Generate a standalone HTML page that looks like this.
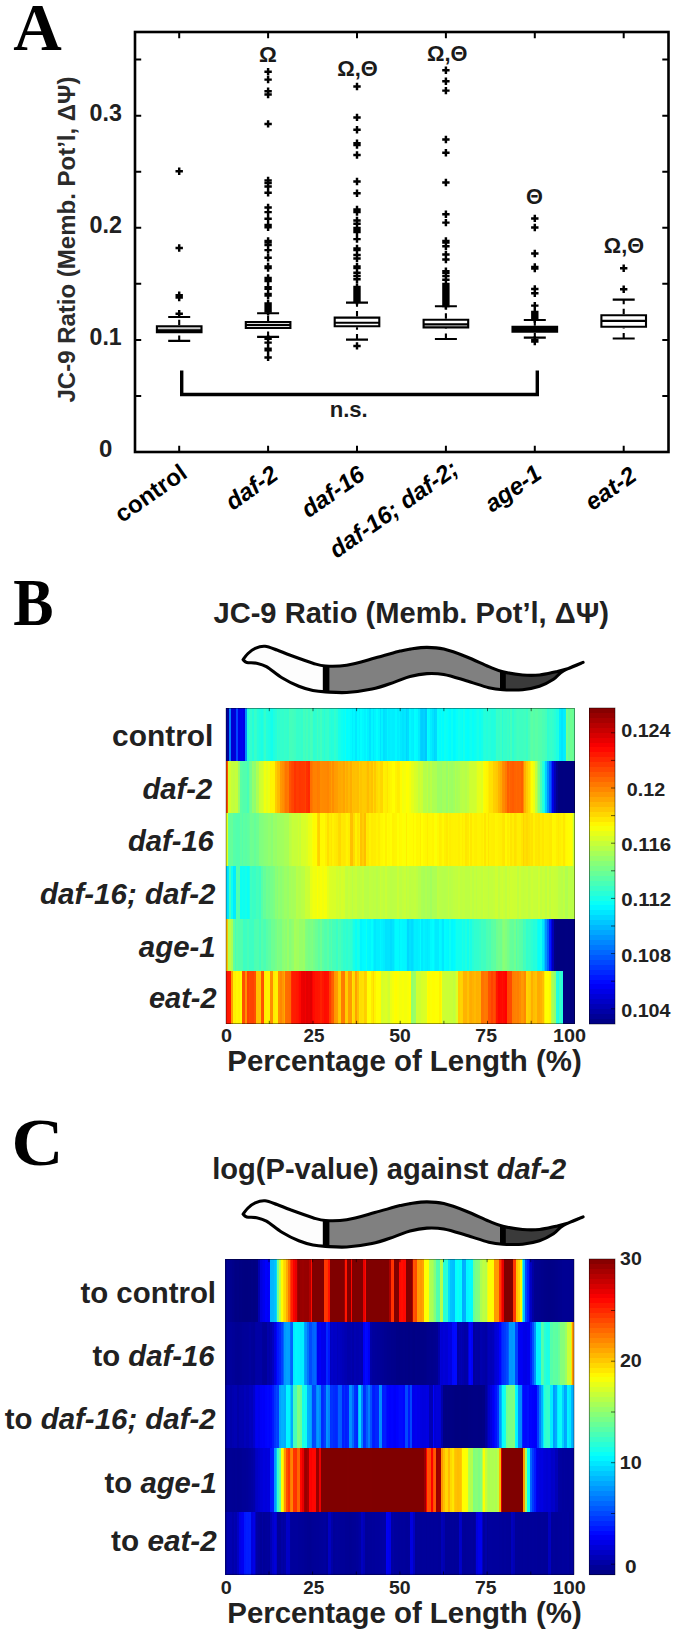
<!DOCTYPE html>
<html lang="en"><head><meta charset="utf-8"><title>Figure</title>
<style>
html,body{margin:0;padding:0;background:#fff}
#fig{position:relative;width:675px;height:1635px;overflow:hidden;background:#fff;font-family:"Liberation Sans", sans-serif}
.hr{position:absolute}
svg{position:absolute;left:0;top:0}
</style></head><body><div id="fig">
<div class="hr" style="left:225.7px;top:708.00px;width:349.1px;height:52.97px;background:linear-gradient(90deg,#00009d 0% 0.5%,#0000a0 0.5% 1%,#0080ff 1% 1.5%,#0000d2 1.5% 2%,#0000d6 2% 2.5%,#0000db 2.5% 3%,#0045ff 3% 3.5%,#0000e7 3.5% 4%,#0000ec 4% 4.5%,#0000f3 4.5% 5%,#0000e4 5% 5.5%,#008aff 5.5% 6%,#24ffdb 6% 6.5%,#35ffca 6.5% 7%,#33ffcc 7% 7.5%,#23ffdc 7.5% 8%,#37ffc8 8% 8.5%,#32ffcd 8.5% 9%,#25ffda 9% 9.5%,#1fffe0 9.5% 10%,#19ffe6 10% 10.5%,#25ffda 10.5% 11%,#35ffca 11% 11.5%,#22ffdd 11.5% 12%,#1dffe2 12% 12.5%,#17ffe8 12.5% 13%,#11ffee 13% 13.5%,#20ffdf 13.5% 14%,#25ffda 14% 14.5%,#34ffcb 14.5% 15%,#2fffd0 15% 15.5%,#34ffcb 15.5% 16%,#32ffcd 16% 16.5%,#38ffc7 16.5% 17%,#35ffca 17% 17.5%,#32ffcd 17.5% 18%,#45ffba 18% 19%,#42ffbd 19% 19.5%,#3fffc0 19.5% 20%,#36ffc9 20% 20.5%,#35ffca 20.5% 21%,#37ffc8 21% 21.5%,#32ffcd 21.5% 22%,#43ffbc 22% 22.5%,#3affc5 22.5% 23%,#44ffbb 23% 23.5%,#38ffc7 23.5% 24%,#46ffb9 24% 24.5%,#42ffbd 24.5% 25%,#2dffd2 25% 25.5%,#31ffce 25.5% 26%,#42ffbd 26% 26.5%,#35ffca 26.5% 27%,#41ffbe 27% 27.5%,#31ffce 27.5% 28%,#28ffd7 28% 28.5%,#34ffcb 28.5% 29%,#37ffc8 29% 29.5%,#29ffd6 29.5% 30%,#22ffdd 30% 30.5%,#25ffda 30.5% 31%,#31ffce 31% 31.5%,#28ffd7 31.5% 32%,#15ffea 32% 33%,#0dfff2 33% 33.5%,#07fff8 33.5% 34%,#14ffeb 34% 34.5%,#00ffff 34.5% 35%,#04fffb 35% 35.5%,#00fbff 35.5% 36%,#00f0ff 36% 36.5%,#00f8ff 36.5% 37%,#00e9ff 37% 37.5%,#00fbff 37.5% 38%,#00f3ff 38% 38.5%,#01fffe 38.5% 39%,#00f9ff 39% 39.5%,#00f3ff 39.5% 40%,#00fdff 40% 40.5%,#00f1ff 40.5% 41%,#00e3ff 41% 41.5%,#00f7ff 41.5% 42%,#00ebff 42% 42.5%,#00f5ff 42.5% 43%,#01fffe 43% 43.5%,#00f6ff 43.5% 44%,#00e3ff 44% 44.5%,#00f4ff 44.5% 45%,#00e0ff 45% 45.5%,#00e5ff 45.5% 46%,#00f5ff 46% 46.5%,#00edff 46.5% 47%,#00f0ff 47% 47.5%,#00eeff 47.5% 48%,#00efff 48% 48.5%,#00f8ff 48.5% 49%,#00edff 49% 49.5%,#00f3ff 49.5% 50%,#00e9ff 50% 50.5%,#00e3ff 50.5% 51%,#00e8ff 51% 51.5%,#00d5ff 51.5% 52%,#00ddff 52% 52.5%,#00f9ff 52.5% 53%,#00f1ff 53% 53.5%,#00eeff 53.5% 54%,#00ffff 54% 54.5%,#00fbff 54.5% 55%,#00ebff 55% 55.5%,#00d4ff 55.5% 56%,#00cdff 56% 56.5%,#00d2ff 56.5% 57%,#00c6ff 57% 57.5%,#04fffb 57.5% 58%,#00fbff 58% 58.5%,#00eeff 58.5% 59%,#00e3ff 59% 59.5%,#00d5ff 59.5% 60%,#00daff 60% 60.5%,#06fff9 60.5% 61%,#00feff 61% 61.5%,#0afff5 61.5% 62%,#00feff 62% 62.5%,#0dfff2 62.5% 63%,#07fff8 63% 63.5%,#00ffff 63.5% 64%,#00fcff 64% 64.5%,#0afff5 64.5% 65%,#00faff 65% 65.5%,#00fdff 65.5% 66%,#07fff8 66% 66.5%,#10ffef 66.5% 67%,#0bfff4 67% 67.5%,#04fffb 67.5% 68%,#15ffea 68% 68.5%,#05fffa 68.5% 69%,#02fffd 69% 69.5%,#09fff6 69.5% 70%,#0ffff0 70% 70.5%,#06fff9 70.5% 71%,#0bfff4 71% 71.5%,#11ffee 71.5% 72%,#17ffe8 72% 72.5%,#0dfff2 72.5% 73%,#14ffeb 73% 73.5%,#22ffdd 73.5% 74%,#27ffd8 74% 74.5%,#22ffdd 74.5% 75%,#27ffd8 75% 76%,#20ffdf 76% 76.5%,#21ffde 76.5% 77%,#23ffdc 77% 77.5%,#39ffc6 77.5% 78%,#35ffca 78% 78.5%,#3dffc2 78.5% 79%,#27ffd8 79% 79.5%,#37ffc8 79.5% 80%,#34ffcb 80% 80.5%,#3bffc4 80.5% 81%,#32ffcd 81% 81.5%,#44ffbb 81.5% 82%,#2effd1 82% 82.5%,#39ffc6 82.5% 83%,#3effc1 83% 83.5%,#42ffbd 83.5% 84%,#3effc1 84% 84.5%,#3dffc2 84.5% 85%,#3fffc0 85% 85.5%,#42ffbd 85.5% 86%,#38ffc7 86% 86.5%,#48ffb7 86.5% 87%,#55ffaa 87% 87.5%,#5cffa3 87.5% 88%,#54ffab 88% 88.5%,#5bffa4 88.5% 89.5%,#53ffac 89.5% 90%,#52ffad 90% 90.5%,#4affb5 90.5% 91%,#4bffb4 91% 91.5%,#44ffbb 91.5% 92%,#2fffd0 92% 92.5%,#35ffca 92.5% 93%,#38ffc7 93% 93.5%,#31ffce 93.5% 94%,#29ffd6 94% 94.5%,#1cffe3 94.5% 95%,#21ffde 95% 95.5%,#00eeff 95.5% 96%,#00e4ff 96% 96.5%,#00eeff 96.5% 97%,#00f1ff 97% 97.5%,#71ff8e 97.5% 98%,#60ff9f 98% 98.5%,#6eff91 98.5% 99%,#6bff94 99% 99.5%,#64ff9b 99.5% 100%)"></div>
<div class="hr" style="left:225.7px;top:760.67px;width:349.1px;height:52.97px;background:linear-gradient(90deg,#ff4d00 0% 0.5%,#d4ff2b 0.5% 1%,#d3ff2c 1% 1.5%,#c4ff3b 1.5% 2%,#bfff40 2% 2.5%,#c7ff38 2.5% 3%,#c3ff3c 3% 3.5%,#96ff69 3.5% 4%,#5affa5 4% 4.5%,#55ffaa 4.5% 5%,#52ffad 5% 6%,#46ffb9 6% 6.5%,#67ff98 6.5% 7%,#74ff8b 7% 7.5%,#94ff6b 7.5% 8%,#8dff72 8% 8.5%,#aeff51 8.5% 9%,#adff52 9% 9.5%,#cdff32 9.5% 10%,#d2ff2d 10% 10.5%,#dcff23 10.5% 11%,#f0ff0f 11% 11.5%,#e5ff1a 11.5% 12%,#eeff11 12% 12.5%,#fff300 12.5% 13%,#fff500 13% 13.5%,#fff400 13.5% 14%,#ffcc00 14% 14.5%,#ffbb00 14.5% 15%,#ffb900 15% 15.5%,#ff9800 15.5% 16%,#ff8f00 16% 16.5%,#ff8300 16.5% 17%,#ff7400 17% 17.5%,#ff7700 17.5% 18%,#ff5300 18% 18.5%,#ff4800 18.5% 19%,#ff4400 19% 19.5%,#ff3300 19.5% 20%,#ff3c00 20% 20.5%,#ff3b00 20.5% 21%,#ff3600 21% 21.5%,#ff3800 21.5% 22%,#ff3900 22% 22.5%,#ff4100 22.5% 23%,#ff2f00 23% 23.5%,#ff2800 23.5% 24%,#ff6f00 24% 24.5%,#ff7800 24.5% 25%,#ff8100 25% 25.5%,#ff8200 25.5% 26%,#ff7b00 26% 26.5%,#ff7d00 26.5% 27%,#ff8c00 27% 27.5%,#ff8a00 27.5% 28%,#ff8900 28% 29%,#ff8500 29% 29.5%,#ff8f00 29.5% 30%,#ff9e00 30% 30.5%,#ff8e00 30.5% 31%,#ff9c00 31% 31.5%,#ff9e00 31.5% 32%,#ffa900 32% 32.5%,#ffa800 32.5% 33%,#ffac00 33% 33.5%,#ffa400 33.5% 34%,#ffb600 34% 34.5%,#ffad00 34.5% 35%,#ffb800 35% 35.5%,#ffad00 35.5% 36%,#ffc000 36% 36.5%,#ffbe00 36.5% 37%,#ffc000 37% 37.5%,#ffbd00 37.5% 38%,#ffcd00 38% 38.5%,#ffc400 38.5% 39%,#ffcb00 39% 39.5%,#ffca00 39.5% 40%,#ffc600 40% 40.5%,#ffbb00 40.5% 41%,#ffc900 41% 41.5%,#ffc100 41.5% 42%,#ffd800 42% 42.5%,#ffc800 42.5% 43%,#ffda00 43% 43.5%,#ffe100 43.5% 44%,#ffd700 44% 44.5%,#ffd600 44.5% 45%,#fff000 45% 45.5%,#ffed00 45.5% 46%,#ffe400 46% 46.5%,#fff200 46.5% 47%,#fff700 47% 47.5%,#fffe00 47.5% 48%,#ffff00 48% 48.5%,#fff300 48.5% 49%,#ffec00 49% 49.5%,#ffed00 49.5% 50%,#fffc00 50% 50.5%,#f3ff0c 50.5% 51%,#f7ff08 51% 51.5%,#ffff00 51.5% 52%,#fdff02 52% 52.5%,#f5ff0a 52.5% 53%,#e5ff1a 53% 53.5%,#e3ff1c 53.5% 54%,#d9ff26 54% 54.5%,#d4ff2b 54.5% 55%,#c4ff3b 55% 55.5%,#d1ff2e 55.5% 56%,#cbff34 56% 56.5%,#b5ff4a 56.5% 57%,#b4ff4b 57% 57.5%,#beff41 57.5% 58%,#acff53 58% 58.5%,#baff45 58.5% 59%,#acff53 59% 59.5%,#aeff51 59.5% 60%,#acff53 60% 60.5%,#9dff62 60.5% 61.5%,#99ff66 61.5% 62%,#a3ff5c 62% 62.5%,#a4ff5b 62.5% 63%,#97ff68 63% 63.5%,#aaff55 63.5% 64%,#9fff60 64% 64.5%,#9bff64 64.5% 65%,#a1ff5e 65% 65.5%,#afff50 65.5% 66%,#a6ff59 66% 66.5%,#abff54 66.5% 67%,#b6ff49 67% 67.5%,#baff45 67.5% 68%,#b9ff46 68% 68.5%,#b4ff4b 68.5% 69%,#bdff42 69% 69.5%,#caff35 69.5% 70%,#ceff31 70% 71%,#cfff30 71% 71.5%,#d5ff2a 71.5% 72%,#e4ff1b 72% 72.5%,#e7ff18 72.5% 73%,#e0ff1f 73% 73.5%,#f8ff07 73.5% 74%,#fffa00 74% 74.5%,#fff600 74.5% 75%,#ffeb00 75% 75.5%,#ffe100 75.5% 76%,#ffe000 76% 76.5%,#ffcf00 76.5% 77%,#ffcd00 77% 77.5%,#ffc700 77.5% 78%,#ffb300 78% 78.5%,#ffa800 78.5% 79%,#ff8e00 79% 79.5%,#ff8a00 79.5% 80%,#ff7a00 80% 80.5%,#ff5e00 80.5% 81%,#ff6a00 81% 81.5%,#ff6000 81.5% 82%,#ff5c00 82% 82.5%,#ff6300 82.5% 83%,#ff6700 83% 83.5%,#ff6300 83.5% 84%,#ff6500 84% 84.5%,#ff5c00 84.5% 85%,#ff8300 85% 85.5%,#ffb100 85.5% 86%,#ffca00 86% 86.5%,#ffdc00 86.5% 87%,#ffed00 87% 87.5%,#fdff02 87.5% 88%,#edff12 88% 88.5%,#c3ff3c 88.5% 89%,#a0ff5f 89% 89.5%,#7fff80 89.5% 90%,#50ffaf 90% 90.5%,#25ffda 90.5% 91%,#0dfff2 91% 91.5%,#00ceff 91.5% 92%,#0093ff 92% 92.5%,#005dff 92.5% 93%,#0034ff 93% 93.5%,#0000e4 93.5% 94%,#0000b5 94% 94.5%,#000091 94.5% 95%,#000080 95% 96.5%,#000081 96.5% 97%,#000080 97% 99.5%,#000081 99.5% 100%)"></div>
<div class="hr" style="left:225.7px;top:813.33px;width:349.1px;height:52.97px;background:linear-gradient(90deg,#e1ff1e 0% 0.5%,#65ff9a 0.5% 1%,#63ff9c 1% 1.5%,#65ff9a 1.5% 2%,#56ffa9 2% 2.5%,#55ffaa 2.5% 3%,#52ffad 3% 4%,#5dffa2 4% 4.5%,#53ffac 4.5% 5%,#5effa1 5% 5.5%,#5affa5 5.5% 6%,#5effa1 6% 6.5%,#63ff9c 6.5% 7%,#6fff90 7% 7.5%,#6dff92 7.5% 8%,#65ff9a 8% 8.5%,#6dff92 8.5% 9%,#6eff91 9% 9.5%,#80ff7f 9.5% 10%,#82ff7d 10% 10.5%,#85ff7a 10.5% 11%,#89ff76 11% 11.5%,#8bff74 11.5% 12%,#92ff6d 12% 13%,#8aff75 13% 13.5%,#99ff66 13.5% 14%,#96ff69 14% 14.5%,#9fff60 14.5% 15.5%,#a0ff5f 15.5% 16%,#a2ff5d 16% 16.5%,#a8ff57 16.5% 17%,#a9ff56 17% 18%,#bbff44 18% 18.5%,#bfff40 18.5% 19%,#c7ff38 19% 19.5%,#c5ff3a 19.5% 20%,#c7ff38 20% 20.5%,#cfff30 20.5% 21%,#c7ff38 21% 21.5%,#d7ff28 21.5% 22%,#d8ff27 22% 22.5%,#d7ff28 22.5% 23%,#ddff22 23% 23.5%,#eaff15 23.5% 24%,#edff12 24% 24.5%,#faff05 24.5% 25%,#fffb00 25% 25.5%,#fffc00 25.5% 26%,#ffd900 26% 26.5%,#ffd100 26.5% 27%,#fffa00 27% 28%,#fffb00 28% 28.5%,#fff000 28.5% 29%,#ffdf00 29% 29.5%,#ffed00 29.5% 30%,#ffe600 30% 30.5%,#fff200 30.5% 31%,#ffeb00 31% 31.5%,#ffe700 31.5% 32%,#ffda00 32% 32.5%,#ffd800 32.5% 33%,#ffe900 33% 33.5%,#ffe700 33.5% 34%,#ffea00 34% 34.5%,#fff300 34.5% 35%,#ffec00 35% 35.5%,#ffbf00 35.5% 36.5%,#ffdb00 36.5% 37%,#fff100 37% 37.5%,#ffe300 37.5% 38%,#ffed00 38% 38.5%,#ffc200 38.5% 39%,#ffce00 39% 39.5%,#ffbd00 39.5% 40%,#ffe900 40% 40.5%,#ffe700 40.5% 41%,#fff200 41% 41.5%,#ffeb00 41.5% 42%,#ffed00 42% 43%,#fff300 43% 43.5%,#ffed00 43.5% 44%,#fff600 44% 44.5%,#fff800 44.5% 45%,#fffc00 45% 45.5%,#fff100 45.5% 46%,#fffd00 46% 46.5%,#fffa00 46.5% 47%,#fffe00 47% 47.5%,#fff200 47.5% 48%,#fff400 48% 48.5%,#fff500 48.5% 49%,#feff01 49% 49.5%,#fff800 49.5% 50%,#fffb00 50% 50.5%,#fdff02 50.5% 51%,#fbff04 51% 51.5%,#ffef00 51.5% 52%,#fdff02 52% 52.5%,#fffd00 52.5% 53.5%,#fff600 53.5% 54%,#feff01 54% 54.5%,#fff700 54.5% 55%,#fff800 55% 55.5%,#ffee00 55.5% 56%,#ffff00 56% 56.5%,#fff900 56.5% 57%,#fff600 57% 57.5%,#ffed00 57.5% 58%,#fff700 58% 58.5%,#fff900 58.5% 59%,#fff500 59% 59.5%,#fffe00 59.5% 60%,#fbff04 60% 60.5%,#fff800 60.5% 61%,#ffee00 61% 61.5%,#fff100 61.5% 62%,#fff900 62% 62.5%,#ffef00 62.5% 63%,#ffea00 63% 63.5%,#fff500 63.5% 64%,#ffee00 64% 64.5%,#fff200 64.5% 65%,#fff300 65% 65.5%,#fff200 65.5% 66%,#fff300 66% 66.5%,#ffef00 66.5% 67%,#fff500 67% 67.5%,#ffed00 67.5% 68%,#fff300 68% 68.5%,#ffe600 68.5% 69%,#ffea00 69% 69.5%,#fff700 69.5% 70%,#ffe800 70% 70.5%,#fff400 70.5% 71%,#ffef00 71% 71.5%,#ffee00 71.5% 72%,#fff300 72% 73%,#ffef00 73% 73.5%,#fff500 73.5% 74%,#ffe500 74% 74.5%,#fff400 74.5% 75%,#ffe500 75% 75.5%,#fff100 75.5% 76%,#ffef00 76% 76.5%,#ffee00 76.5% 77%,#fff600 77% 77.5%,#fff400 77.5% 78%,#fff000 78% 78.5%,#ffef00 78.5% 79%,#ffe700 79% 79.5%,#ffe500 79.5% 80%,#fff800 80% 80.5%,#ffed00 80.5% 81%,#fff400 81% 81.5%,#ffe500 81.5% 82%,#ffee00 82% 82.5%,#ffe100 82.5% 83%,#ffe600 83% 83.5%,#ffee00 83.5% 84.5%,#ffe500 84.5% 85%,#ffd400 85% 85.5%,#ffdf00 85.5% 86%,#ffd900 86% 86.5%,#ffe000 86.5% 87%,#ffe600 87% 87.5%,#ffe200 87.5% 88%,#fff100 88% 88.5%,#ffe700 88.5% 89%,#ffe900 89% 89.5%,#ffe400 89.5% 90%,#ffed00 90% 90.5%,#ffe600 90.5% 91%,#fff000 91% 91.5%,#ffee00 91.5% 92%,#ffed00 92% 92.5%,#ffe900 92.5% 93%,#ffe800 93% 93.5%,#fff800 93.5% 94%,#fff700 94% 94.5%,#ffef00 94.5% 95%,#ffe900 95% 95.5%,#ffef00 95.5% 96%,#fff400 96% 96.5%,#ffe800 96.5% 97%,#fff600 97% 97.5%,#fffb00 97.5% 98%,#fffd00 98% 98.5%,#fffe00 98.5% 99%,#f2ff0d 99% 99.5%,#c9ff36 99.5% 100%)"></div>
<div class="hr" style="left:225.7px;top:866.00px;width:349.1px;height:52.97px;background:linear-gradient(90deg,#00dfff 0% 0.5%,#00e9ff 0.5% 1%,#3bffc4 1% 1.5%,#0afff5 1.5% 2%,#00ecff 2% 3%,#50ffaf 3% 3.5%,#4fffb0 3.5% 4%,#0cfff3 4% 4.5%,#12ffed 4.5% 5%,#0efff1 5% 5.5%,#14ffeb 5.5% 6%,#09fff6 6% 6.5%,#15ffea 6.5% 7%,#40ffbf 7% 7.5%,#39ffc6 7.5% 8.5%,#44ffbb 8.5% 9%,#43ffbc 9% 9.5%,#3cffc3 9.5% 10%,#57ffa8 10% 10.5%,#66ff99 10.5% 11%,#63ff9c 11% 11.5%,#70ff8f 11.5% 12%,#6dff92 12% 12.5%,#75ff8a 12.5% 13.5%,#7bff84 13.5% 14%,#8bff74 14% 14.5%,#85ff7a 14.5% 15%,#92ff6d 15% 15.5%,#8cff73 15.5% 16%,#93ff6c 16% 16.5%,#9bff64 16.5% 17%,#9cff63 17% 17.5%,#97ff68 17.5% 18%,#a3ff5c 18% 18.5%,#a8ff57 18.5% 19%,#a5ff5a 19% 19.5%,#a7ff58 19.5% 20%,#b7ff48 20% 20.5%,#b4ff4b 20.5% 21%,#b3ff4c 21% 21.5%,#baff45 21.5% 22%,#bbff44 22% 22.5%,#caff35 22.5% 23%,#cbff34 23% 23.5%,#caff35 23.5% 24%,#e6ff19 24% 24.5%,#ecff13 24.5% 25%,#f2ff0d 25% 25.5%,#eeff11 25.5% 26%,#fbff04 26% 26.5%,#f1ff0e 26.5% 27%,#f9ff06 27% 27.5%,#f2ff0d 27.5% 28%,#f9ff06 28% 28.5%,#f5ff0a 28.5% 29%,#e4ff1b 29% 29.5%,#daff25 29.5% 30.5%,#d8ff27 30.5% 31%,#d9ff26 31% 31.5%,#d0ff2f 31.5% 32%,#d5ff2a 32% 32.5%,#ceff31 32.5% 33%,#d6ff29 33% 33.5%,#d4ff2b 33.5% 34%,#c4ff3b 34% 34.5%,#c2ff3d 34.5% 35%,#c9ff36 35% 35.5%,#c4ff3b 35.5% 36%,#baff45 36% 36.5%,#c4ff3b 36.5% 37%,#c7ff38 37% 37.5%,#beff41 37.5% 38%,#bcff43 38% 38.5%,#bfff40 38.5% 39%,#c5ff3a 39% 39.5%,#b9ff46 39.5% 40%,#baff45 40% 40.5%,#b8ff47 40.5% 41%,#c0ff3f 41% 41.5%,#beff41 41.5% 42%,#bbff44 42% 42.5%,#beff41 42.5% 43%,#b8ff47 43% 43.5%,#bdff42 43.5% 44%,#c9ff36 44% 44.5%,#c3ff3c 44.5% 45%,#beff41 45% 45.5%,#c9ff36 45.5% 46%,#bfff40 46% 46.5%,#beff41 46.5% 47%,#baff45 47% 47.5%,#bcff43 47.5% 48%,#bdff42 48% 49%,#c8ff37 49% 49.5%,#beff41 49.5% 50%,#bdff42 50% 50.5%,#c3ff3c 50.5% 51%,#c7ff38 51% 51.5%,#bcff43 51.5% 52%,#c3ff3c 52% 52.5%,#bcff43 52.5% 53%,#bfff40 53% 54%,#c2ff3d 54% 54.5%,#bcff43 54.5% 55%,#b4ff4b 55% 55.5%,#b6ff49 55.5% 56%,#abff54 56% 56.5%,#a8ff57 56.5% 57%,#afff50 57% 57.5%,#a7ff58 57.5% 58%,#aaff55 58% 58.5%,#a1ff5e 58.5% 59%,#adff52 59% 60%,#acff53 60% 60.5%,#bcff43 60.5% 61%,#b8ff47 61% 61.5%,#b7ff48 61.5% 62%,#b6ff49 62% 62.5%,#b5ff4a 62.5% 63%,#b7ff48 63% 63.5%,#c0ff3f 63.5% 64%,#b8ff47 64% 64.5%,#bbff44 64.5% 65%,#bfff40 65% 65.5%,#c2ff3d 65.5% 66%,#c0ff3f 66% 66.5%,#c6ff39 66.5% 67%,#beff41 67% 67.5%,#c0ff3f 67.5% 68%,#c1ff3e 68% 68.5%,#bcff43 68.5% 69%,#bdff42 69% 69.5%,#bcff43 69.5% 70%,#c5ff3a 70% 70.5%,#bcff43 70.5% 71%,#c5ff3a 71% 71.5%,#bdff42 71.5% 72%,#c4ff3b 72% 72.5%,#c5ff3a 72.5% 73%,#c0ff3f 73% 73.5%,#caff35 73.5% 74%,#c6ff39 74% 74.5%,#c5ff3a 74.5% 75%,#bdff42 75% 75.5%,#c3ff3c 75.5% 76%,#c2ff3d 76% 76.5%,#c5ff3a 76.5% 77%,#cdff32 77% 78%,#c0ff3f 78% 78.5%,#caff35 78.5% 79%,#ceff31 79% 79.5%,#c8ff37 79.5% 80%,#c0ff3f 80% 80.5%,#cdff32 80.5% 81%,#c6ff39 81% 81.5%,#cfff30 81.5% 82%,#cdff32 82% 82.5%,#ccff33 82.5% 83%,#ceff31 83% 83.5%,#c0ff3f 83.5% 84%,#ccff33 84% 84.5%,#c4ff3b 84.5% 85%,#c1ff3e 85% 85.5%,#c5ff3a 85.5% 86%,#c8ff37 86% 86.5%,#bfff40 86.5% 87%,#c6ff39 87% 87.5%,#ccff33 87.5% 88%,#c7ff38 88% 89%,#c4ff3b 89% 89.5%,#cfff30 89.5% 90%,#c2ff3d 90% 90.5%,#c9ff36 90.5% 91%,#c8ff37 91% 91.5%,#bdff42 91.5% 92%,#ccff33 92% 92.5%,#bfff40 92.5% 93%,#cbff34 93% 93.5%,#c9ff36 93.5% 94%,#c7ff38 94% 94.5%,#c5ff3a 94.5% 95%,#bcff43 95% 95.5%,#bbff44 95.5% 96%,#b8ff47 96% 96.5%,#c0ff3f 96.5% 97%,#afff50 97% 97.5%,#b0ff4f 97.5% 98%,#bdff42 98% 98.5%,#baff45 98.5% 99%,#b7ff48 99% 99.5%,#bbff44 99.5% 100%)"></div>
<div class="hr" style="left:225.7px;top:918.67px;width:349.1px;height:52.97px;background:linear-gradient(90deg,#ffc100 0% 0.5%,#afff50 0.5% 1%,#bdff42 1% 1.5%,#abff54 1.5% 2%,#62ff9d 2% 2.5%,#47ffb8 2.5% 3%,#58ffa7 3% 3.5%,#50ffaf 3.5% 4%,#51ffae 4% 4.5%,#50ffaf 4.5% 5%,#3cffc3 5% 5.5%,#3effc1 5.5% 6%,#47ffb8 6% 6.5%,#3dffc2 6.5% 7.5%,#3cffc3 7.5% 8%,#4cffb3 8% 8.5%,#4effb1 8.5% 9.5%,#41ffbe 9.5% 10%,#54ffab 10% 10.5%,#4cffb3 10.5% 11%,#4affb5 11% 11.5%,#57ffa8 11.5% 12%,#5effa1 12% 12.5%,#5dffa2 12.5% 13%,#6eff91 13% 13.5%,#6dff92 13.5% 14%,#75ff8a 14% 14.5%,#82ff7d 14.5% 15%,#7eff81 15% 15.5%,#7bff84 15.5% 16%,#8bff74 16% 16.5%,#92ff6d 16.5% 17%,#8aff75 17% 17.5%,#99ff66 17.5% 18%,#87ff78 18% 18.5%,#8eff71 18.5% 19%,#92ff6d 19% 19.5%,#a6ff59 19.5% 20%,#a1ff5e 20% 20.5%,#a3ff5c 20.5% 21%,#96ff69 21% 22%,#9bff64 22% 22.5%,#82ff7d 22.5% 23%,#7eff81 23% 23.5%,#77ff88 23.5% 24%,#7cff83 24% 24.5%,#80ff7f 24.5% 25%,#74ff8b 25% 25.5%,#6bff94 25.5% 26%,#69ff96 26% 26.5%,#5effa1 26.5% 27%,#6dff92 27% 27.5%,#5affa5 27.5% 28%,#53ffac 28% 28.5%,#51ffae 28.5% 29%,#5affa5 29% 29.5%,#4affb5 29.5% 30%,#55ffaa 30% 30.5%,#45ffba 30.5% 31.5%,#39ffc6 31.5% 32%,#4bffb4 32% 32.5%,#46ffb9 32.5% 33%,#3bffc4 33% 33.5%,#30ffcf 33.5% 34%,#35ffca 34% 34.5%,#2dffd2 34.5% 35%,#34ffcb 35% 35.5%,#31ffce 35.5% 36%,#27ffd8 36% 36.5%,#17ffe8 36.5% 37%,#0afff5 37% 37.5%,#18ffe7 37.5% 38%,#11ffee 38% 38.5%,#00f5ff 38.5% 39%,#00fbff 39% 39.5%,#00fdff 39.5% 40%,#0dfff2 40% 40.5%,#00f8ff 40.5% 41%,#00f6ff 41% 41.5%,#02fffd 41.5% 42%,#00f3ff 42% 42.5%,#00e8ff 42.5% 43%,#00efff 43% 44%,#00f7ff 44% 44.5%,#00f1ff 44.5% 45%,#00ecff 45% 45.5%,#00e2ff 45.5% 46%,#00e3ff 46% 47%,#00dcff 47% 47.5%,#00e3ff 47.5% 48%,#00f1ff 48% 48.5%,#00fbff 48.5% 49.5%,#00f1ff 49.5% 50%,#00fbff 50% 50.5%,#00f8ff 50.5% 51%,#00f7ff 51% 51.5%,#00f2ff 51.5% 52%,#00d7ff 52% 52.5%,#00e2ff 52.5% 53%,#00dbff 53% 53.5%,#00e4ff 53.5% 54%,#00efff 54% 54.5%,#00edff 54.5% 55%,#00f1ff 55% 55.5%,#00feff 55.5% 56%,#00e9ff 56% 56.5%,#00f2ff 56.5% 57%,#00edff 57% 57.5%,#00e9ff 57.5% 58%,#00eeff 58% 58.5%,#00faff 58.5% 59%,#00feff 59% 59.5%,#00f3ff 59.5% 60%,#00ebff 60% 60.5%,#00ecff 60.5% 61%,#00fbff 61% 61.5%,#00f6ff 61.5% 62%,#00e8ff 62% 62.5%,#00fdff 62.5% 63%,#00faff 63% 63.5%,#00f8ff 63.5% 64%,#0afff5 64% 64.5%,#00f9ff 64.5% 65%,#00fcff 65% 65.5%,#05fffa 65.5% 66%,#11ffee 66% 66.5%,#0ffff0 66.5% 67%,#10ffef 67% 67.5%,#1dffe2 67.5% 68%,#13ffec 68% 68.5%,#1fffe0 68.5% 69%,#0ffff0 69% 69.5%,#26ffd9 69.5% 70%,#1affe5 70% 70.5%,#29ffd6 70.5% 71%,#31ffce 71% 71.5%,#30ffcf 71.5% 72%,#32ffcd 72% 72.5%,#37ffc8 72.5% 73%,#41ffbe 73% 73.5%,#3dffc2 73.5% 74%,#3effc1 74% 74.5%,#4bffb4 74.5% 75%,#50ffaf 75% 75.5%,#4bffb4 75.5% 76%,#5affa5 76% 76.5%,#5effa1 76.5% 77%,#5bffa4 77% 77.5%,#6eff91 77.5% 78%,#74ff8b 78% 78.5%,#6fff90 78.5% 79%,#81ff7e 79% 79.5%,#89ff76 79.5% 80%,#81ff7e 80% 80.5%,#76ff89 80.5% 81%,#6dff92 81% 81.5%,#65ff9a 81.5% 82%,#63ff9c 82% 82.5%,#70ff8f 82.5% 83%,#54ffab 83% 83.5%,#63ff9c 83.5% 84%,#59ffa6 84% 84.5%,#56ffa9 84.5% 85%,#3fffc0 85% 85.5%,#45ffba 85.5% 86%,#32ffcd 86% 86.5%,#36ffc9 86.5% 87%,#33ffcc 87% 87.5%,#2cffd3 87.5% 88%,#22ffdd 88% 88.5%,#25ffda 88.5% 89%,#0ffff0 89% 89.5%,#07fff8 89.5% 90%,#11ffee 90% 90.5%,#00e5ff 90.5% 91%,#00c5ff 91% 91.5%,#0092ff 91.5% 92%,#0060ff 92% 92.5%,#001bff 92.5% 93%,#0000ec 93% 93.5%,#0000b8 93.5% 94%,#000085 94% 94.5%,#000080 94.5% 97%,#000081 97% 98%,#000080 98% 98.5%,#000081 98.5% 99%,#000080 99% 100%)"></div>
<div class="hr" style="left:225.7px;top:971.33px;width:349.1px;height:52.97px;background:linear-gradient(90deg,#ff1300 0% 0.5%,#ff1500 0.5% 1%,#ff1900 1% 1.5%,#ff9c00 1.5% 2%,#fff200 2% 2.5%,#fff000 2.5% 3%,#fff900 3% 3.5%,#fff500 3.5% 4%,#fdff02 4% 4.5%,#ff5000 4.5% 5%,#ff4f00 5% 5.5%,#ff9000 5.5% 6%,#ff3f00 6% 6.5%,#ff4800 6.5% 7%,#ff4300 7% 7.5%,#ff4200 7.5% 8%,#ff5000 8% 8.5%,#ffc000 8.5% 9%,#ffc200 9% 9.5%,#ffc400 9.5% 10%,#ff5400 10% 10.5%,#ff4d00 10.5% 11%,#ffee00 11% 11.5%,#fff300 11.5% 12%,#fff400 12% 12.5%,#ff8d00 12.5% 13%,#ff8e00 13% 13.5%,#ffeb00 13.5% 14%,#fff200 14% 14.5%,#fff100 14.5% 15%,#ff9100 15% 15.5%,#ff8700 15.5% 16%,#ff9700 16% 16.5%,#ffa800 16.5% 17%,#ff6d00 17% 17.5%,#ff6c00 17.5% 18%,#ff6800 18% 18.5%,#ff2700 18.5% 19%,#ff1c00 19% 19.5%,#ff1b00 19.5% 20%,#ff1600 20% 20.5%,#ff1100 20.5% 21%,#ff0700 21% 21.5%,#ec0000 21.5% 22%,#e90000 22% 22.5%,#f30000 22.5% 23%,#e40000 23% 23.5%,#e80000 23.5% 24%,#e00000 24% 24.5%,#fa0000 24.5% 25%,#ff0b00 25% 25.5%,#ff1300 25.5% 26.5%,#ff1600 26.5% 27%,#ff2000 27% 27.5%,#ff1500 27.5% 28%,#ff0b00 28% 28.5%,#ff0c00 28.5% 29%,#ff1000 29% 29.5%,#ff3b00 29.5% 30%,#ff5700 30% 30.5%,#ff6000 30.5% 31%,#ff9700 31% 31.5%,#ff9e00 31.5% 32%,#ffca00 32% 32.5%,#ffcc00 32.5% 33%,#ff7d00 33% 33.5%,#ff7a00 33.5% 34%,#ffcb00 34% 34.5%,#ffcd00 34.5% 35%,#ff9b00 35% 35.5%,#ff9a00 35.5% 36%,#ffe300 36% 36.5%,#ffd900 36.5% 37%,#ffa100 37% 37.5%,#ffbe00 37.5% 38%,#ffe200 38% 38.5%,#ffde00 38.5% 39%,#ffe100 39% 39.5%,#ffcd00 39.5% 40%,#ffd100 40% 40.5%,#fffe00 40.5% 41%,#ffff00 41% 41.5%,#ffeb00 41.5% 42%,#ffdb00 42% 42.5%,#fff300 42.5% 43%,#feff01 43% 44%,#fffc00 44% 44.5%,#d3ff2c 44.5% 45%,#d9ff26 45% 45.5%,#ddff22 45.5% 46%,#d7ff28 46% 46.5%,#cfff30 46.5% 47%,#ecff13 47% 47.5%,#f5ff0a 47.5% 48%,#fdff02 48% 48.5%,#fffd00 48.5% 49%,#faff05 49% 49.5%,#f3ff0c 49.5% 50%,#f5ff0a 50% 50.5%,#f9ff06 50.5% 51%,#f4ff0b 51% 52%,#f9ff06 52% 52.5%,#ffff00 52.5% 53%,#90ff6f 53% 53.5%,#9aff65 53.5% 54.5%,#d0ff2f 54.5% 55%,#ceff31 55% 56%,#d7ff28 56% 56.5%,#daff25 56.5% 57%,#dcff23 57% 57.5%,#ffff00 57.5% 58%,#fffb00 58% 58.5%,#fcff03 58.5% 59%,#fffd00 59% 60%,#feff01 60% 60.5%,#fdff02 60.5% 61%,#fff200 61% 61.5%,#fffd00 61.5% 62%,#ccff33 62% 63%,#caff35 63% 63.5%,#cbff34 63.5% 64%,#c9ff36 64% 65%,#c1ff3e 65% 65.5%,#caff35 65.5% 66%,#dbff24 66% 66.5%,#ffcd00 66.5% 67%,#ffd400 67% 67.5%,#ffd200 67.5% 68%,#ffb300 68% 69%,#ffc200 69% 69.5%,#ffb000 69.5% 70%,#ffab00 70% 70.5%,#ffb200 70.5% 71%,#ffb900 71% 71.5%,#ffaf00 71.5% 72%,#ffb000 72% 72.5%,#ffb300 72.5% 73%,#ff7200 73% 73.5%,#ff7300 73.5% 74%,#ff7a00 74% 74.5%,#ff7700 74.5% 75%,#ff5100 75% 76%,#ff4100 76% 76.5%,#ff4d00 76.5% 77%,#ff4100 77% 77.5%,#ff1500 77.5% 78%,#ff0500 78% 78.5%,#ff0800 78.5% 79%,#ff0e00 79% 79.5%,#ff0700 79.5% 80%,#ff0000 80% 80.5%,#ff4700 80.5% 81%,#ff4a00 81% 82%,#ff7c00 82% 82.5%,#ff8000 82.5% 83%,#ff8400 83% 83.5%,#ff7f00 83.5% 84%,#ff8a00 84% 84.5%,#ff9a00 84.5% 85%,#ff9700 85% 85.5%,#ff8900 85.5% 86%,#ffd400 86% 86.5%,#ffce00 86.5% 87%,#ffc800 87% 87.5%,#ffae00 87.5% 88%,#ffbe00 88% 88.5%,#ffc300 88.5% 89%,#ffab00 89% 89.5%,#ffaa00 89.5% 90%,#ffaf00 90% 90.5%,#ffbd00 90.5% 91%,#ffea00 91% 91.5%,#feff01 91.5% 92%,#ffff00 92% 92.5%,#fff800 92.5% 93%,#b6ff49 93% 93.5%,#a7ff58 93.5% 94%,#91ff6e 94% 94.5%,#22ffdd 94.5% 95%,#16ffe9 95% 95.5%,#3affc5 95.5% 96%,#26ffd9 96% 96.5%,#000080 96.5% 100%)"></div>
<div class="hr" style="left:225.4px;top:1259.00px;width:349.0px;height:63.44px;background:linear-gradient(90deg,#000096 0% 0.5%,#000093 0.5% 1%,#000091 1% 1.5%,#00008e 1.5% 2%,#00008a 2% 2.5%,#000086 2.5% 3%,#000084 3% 3.5%,#000085 3.5% 4%,#000082 4% 4.5%,#000083 4.5% 5%,#000081 5% 5.5%,#000080 5.5% 6.5%,#000081 6.5% 7.5%,#000084 7.5% 8%,#000082 8% 8.5%,#000083 8.5% 9%,#000086 9% 9.5%,#0000b1 9.5% 10%,#0000de 10% 10.5%,#0000e7 10.5% 11%,#0000ee 11% 11.5%,#0000fe 11.5% 12%,#0000f8 12% 12.5%,#0000ff 12.5% 13%,#00b5ff 13% 13.5%,#00b7ff 13.5% 14%,#00c1ff 14% 14.5%,#00daff 14.5% 15%,#75ff8a 15% 15.5%,#c0ff3f 15.5% 16%,#fffc00 16% 16.5%,#ffe000 16.5% 17%,#ffd400 17% 17.5%,#ffaa00 17.5% 18%,#ff7600 18% 18.5%,#ff3f00 18.5% 19%,#ff1f00 19% 19.5%,#fb0000 19.5% 20%,#e80000 20% 20.5%,#a30000 20.5% 21%,#920000 21% 21.5%,#980000 21.5% 22%,#9b0000 22% 22.5%,#970000 22.5% 23.5%,#960000 23.5% 24%,#b00000 24% 24.5%,#ff0a00 24.5% 25%,#800000 25% 28.5%,#ff3700 28.5% 29%,#ff3500 29% 29.5%,#ff1100 29.5% 30%,#800000 30% 34%,#9b0000 34% 34.5%,#ff1400 34.5% 35%,#800000 35% 36%,#ff0600 36% 36.5%,#800000 36.5% 39.5%,#e80000 39.5% 40%,#ff0800 40% 40.5%,#800000 40.5% 45%,#810000 45% 45.5%,#800000 45.5% 47%,#aa0000 47% 47.5%,#ff3000 47.5% 48%,#ff3400 48% 48.5%,#800000 48.5% 50%,#ff0800 50% 50.5%,#ff0d00 50.5% 51%,#ff0700 51% 51.5%,#ff0900 51.5% 52%,#800000 52% 52.5%,#810000 52.5% 53%,#800000 53% 53.5%,#ad0000 53.5% 54%,#ff5400 54% 54.5%,#ff4b00 54.5% 55%,#ff9a00 55% 55.5%,#ff9d00 55.5% 56%,#ff9600 56% 56.5%,#ffa100 56.5% 57%,#fdff02 57% 58.5%,#aeff51 58.5% 59%,#abff54 59% 59.5%,#9aff65 59.5% 60%,#82ff7d 60% 60.5%,#50ffaf 60.5% 61%,#4cffb3 61% 61.5%,#b6ff49 61.5% 62%,#b2ff4d 62% 62.5%,#28ffd7 62.5% 63.5%,#33ffcc 63.5% 64%,#00ddff 64% 64.5%,#00c4ff 64.5% 65%,#00c0ff 65% 65.5%,#00beff 65.5% 66%,#00ffff 66% 66.5%,#0bfff4 66.5% 67%,#00feff 67% 67.5%,#04fffb 67.5% 68%,#00adff 68% 68.5%,#00b1ff 68.5% 69%,#00f7ff 69% 69.5%,#00f9ff 69.5% 70%,#00fdff 70% 70.5%,#00fbff 70.5% 71%,#69ff96 71% 71.5%,#77ff88 71.5% 72%,#7cff83 72% 72.5%,#83ff7c 72.5% 73%,#acff53 73% 73.5%,#b8ff47 73.5% 74%,#bfff40 74% 74.5%,#b7ff48 74.5% 75%,#e6ff19 75% 75.5%,#fffc00 75.5% 76%,#fdff02 76% 76.5%,#fffd00 76.5% 77%,#ff9900 77% 77.5%,#ff9c00 77.5% 78%,#ff9b00 78% 78.5%,#ff3d00 78.5% 79%,#ff1700 79% 79.5%,#e70000 79.5% 80%,#800000 80% 81%,#810000 81% 81.5%,#800000 81.5% 82.5%,#ff3800 82.5% 83.5%,#ffc100 83.5% 84%,#ffd600 84% 84.5%,#fff500 84.5% 85%,#4affb5 85% 85.5%,#00bfff 85.5% 86%,#0045ff 86% 86.5%,#001fff 86.5% 87%,#0000ed 87% 87.5%,#0000c5 87.5% 88%,#0000a4 88% 88.5%,#000092 88.5% 89%,#000090 89% 90%,#00008e 90% 90.5%,#00008c 90.5% 91%,#00008b 91% 91.5%,#000089 91.5% 92%,#000088 92% 92.5%,#000087 92.5% 93.5%,#000088 93.5% 94%,#000089 94% 94.5%,#00008b 94.5% 95%,#00008c 95% 95.5%,#00008e 95.5% 96%,#000090 96% 96.5%,#000093 96.5% 98.5%,#000092 98.5% 99.5%,#000093 99.5% 100%)"></div>
<div class="hr" style="left:225.4px;top:1322.14px;width:349.0px;height:63.44px;background:linear-gradient(90deg,#000098 0% 0.5%,#00009c 0.5% 1%,#00009b 1% 2%,#000098 2% 2.5%,#000097 2.5% 3%,#000094 3% 3.5%,#000093 3.5% 4%,#000094 4% 4.5%,#000095 4.5% 5%,#000098 5% 5.5%,#000099 5.5% 6.5%,#00009a 6.5% 7%,#00009e 7% 7.5%,#000099 7.5% 8%,#000097 8% 8.5%,#0000a3 8.5% 9%,#0000a5 9% 10%,#0000a7 10% 10.5%,#00009b 10.5% 11%,#000099 11% 12%,#0000ac 12% 12.5%,#0000a6 12.5% 13%,#0000af 13% 13.5%,#0000c2 13.5% 14%,#0000e2 14% 14.5%,#0000fc 14.5% 15%,#0016ff 15% 15.5%,#0026ff 15.5% 16%,#0042ff 16% 16.5%,#0065ff 16.5% 17%,#0099ff 17% 17.5%,#00a3ff 17.5% 18%,#00a2ff 18% 18.5%,#006cff 18.5% 19%,#0062ff 19% 19.5%,#00edff 19.5% 20%,#00f6ff 20% 20.5%,#00f4ff 20.5% 21%,#00f3ff 21% 21.5%,#00efff 21.5% 22.5%,#00a5ff 22.5% 23%,#0097ff 23% 23.5%,#0072ff 23.5% 24%,#004aff 24% 25%,#0063ff 25% 25.5%,#0069ff 25.5% 26%,#0049ff 26% 26.5%,#0000f1 26.5% 27%,#0000f8 27% 27.5%,#0000ec 27.5% 28%,#0000ed 28% 28.5%,#0000eb 28.5% 29%,#0029ff 29% 29.5%,#0015ff 29.5% 30%,#0000bd 30% 30.5%,#0000ca 30.5% 31%,#0000c4 31% 31.5%,#0000c6 31.5% 32%,#0000bc 32% 32.5%,#0000c2 32.5% 33%,#0000be 33% 33.5%,#0000b8 33.5% 34%,#0000b4 34% 34.5%,#0000b2 34.5% 35%,#0000ab 35% 36%,#0000b0 36% 36.5%,#0000a7 36.5% 37%,#0000b2 37% 37.5%,#0000ad 37.5% 38%,#0000ae 38% 38.5%,#0000b2 38.5% 39%,#0000af 39% 39.5%,#0000f8 39.5% 40%,#000bff 40% 40.5%,#0007ff 40.5% 41%,#0000f4 41% 41.5%,#0000a6 41.5% 42%,#00009e 42% 42.5%,#00009d 42.5% 43%,#00009b 43% 43.5%,#000099 43.5% 44.5%,#000097 44.5% 45%,#000095 45% 45.5%,#000092 45.5% 46%,#000091 46% 46.5%,#00008f 46.5% 47%,#00008e 47% 47.5%,#00008c 47.5% 48.5%,#00008b 48.5% 49%,#000087 49% 50%,#000086 50% 51%,#000087 51% 51.5%,#000085 51.5% 52%,#000086 52% 52.5%,#000084 52.5% 53%,#000087 53% 53.5%,#000085 53.5% 54%,#000084 54% 54.5%,#000087 54.5% 55%,#000086 55% 56%,#000087 56% 57%,#000088 57% 57.5%,#00008a 57.5% 58%,#00008d 58% 58.5%,#00008e 58.5% 59%,#00008d 59% 59.5%,#00008f 59.5% 60%,#000090 60% 60.5%,#000093 60.5% 61%,#0000ab 61% 61.5%,#0000d9 61.5% 62%,#0000d2 62% 62.5%,#0000d9 62.5% 63%,#0000d4 63% 63.5%,#0000d5 63.5% 64%,#0000e4 64% 64.5%,#0000df 64.5% 65%,#0007ff 65% 65.5%,#000bff 65.5% 66%,#0009ff 66% 66.5%,#0000a5 66.5% 67%,#0000ae 67% 67.5%,#0000b4 67.5% 68%,#0000ac 68% 68.5%,#0000a5 68.5% 69%,#0000a7 69% 69.5%,#0000db 69.5% 70%,#0003ff 70% 70.5%,#0000f6 70.5% 71%,#00009d 71% 71.5%,#0000a5 71.5% 72%,#0000a3 72% 72.5%,#0000a0 72.5% 73%,#0000ae 73% 73.5%,#0000aa 73.5% 74%,#0000a8 74% 74.5%,#0000a4 74.5% 75%,#0000b0 75% 75.5%,#0000ba 75.5% 76%,#0000b7 76% 76.5%,#0000bc 76.5% 77%,#0000cd 77% 77.5%,#0000d7 77.5% 78%,#0000e0 78% 78.5%,#0000ff 78.5% 79%,#001cff 79% 79.5%,#002eff 79.5% 80%,#0038ff 80% 80.5%,#0048ff 80.5% 81%,#005eff 81% 81.5%,#0099ff 81.5% 82%,#0097ff 82% 82.5%,#009cff 82.5% 83%,#0045ff 83% 83.5%,#0043ff 83.5% 84%,#0000f6 84% 84.5%,#0000f5 84.5% 85%,#0000f2 85% 85.5%,#0000e9 85.5% 86%,#0000e7 86% 86.5%,#0000ee 86.5% 87%,#0000ed 87% 87.5%,#001eff 87.5% 88%,#004fff 88% 88.5%,#008fff 88.5% 89%,#00f4ff 89% 89.5%,#00f3ff 89.5% 90%,#00f5ff 90% 90.5%,#53ffac 90.5% 91%,#49ffb6 91% 91.5%,#2affd5 91.5% 92%,#1dffe2 92% 92.5%,#1cffe3 92.5% 93%,#57ffa8 93% 93.5%,#54ffab 93.5% 94%,#60ff9f 94% 94.5%,#5cffa3 94.5% 95%,#58ffa7 95% 95.5%,#68ff97 95.5% 96%,#85ff7a 96% 96.5%,#86ff79 96.5% 97%,#88ff77 97% 97.5%,#9cff63 97.5% 98%,#cbff34 98% 98.5%,#c8ff37 98.5% 99%,#ffe500 99% 99.5%,#ff9200 99.5% 100%)"></div>
<div class="hr" style="left:225.4px;top:1385.28px;width:349.0px;height:63.44px;background:linear-gradient(90deg,#0000ae 0% 0.5%,#0000af 0.5% 1%,#0000b2 1% 1.5%,#0000a9 1.5% 2%,#0000af 2% 2.5%,#0000b3 2.5% 3.5%,#0000a7 3.5% 4%,#0000b0 4% 4.5%,#0000b1 4.5% 5%,#0000b0 5% 5.5%,#0000ba 5.5% 6%,#0000b4 6% 7%,#0000be 7% 7.5%,#0000bb 7.5% 8%,#0000cc 8% 8.5%,#0000eb 8.5% 9%,#0000f0 9% 9.5%,#0000eb 9.5% 10%,#0000f7 10% 10.5%,#0000fb 10.5% 11%,#0000f8 11% 11.5%,#0002ff 11.5% 12%,#0006ff 12% 12.5%,#0002ff 12.5% 13%,#0007ff 13% 13.5%,#0018ff 13.5% 14%,#0033ff 14% 14.5%,#0045ff 14.5% 15%,#003eff 15% 15.5%,#00a4ff 15.5% 16%,#00b2ff 16% 16.5%,#00b3ff 16.5% 17%,#00abff 17% 17.5%,#00f7ff 17.5% 18%,#00f6ff 18% 18.5%,#00d2ff 18.5% 19%,#00aaff 19% 19.5%,#43ffbc 19.5% 20%,#46ffb9 20% 20.5%,#7eff81 20.5% 21%,#7fff80 21% 21.5%,#68ff97 21.5% 22%,#12ffed 22% 22.5%,#20ffdf 22.5% 23%,#0dfff2 23% 23.5%,#00b3ff 23.5% 24%,#00acff 24% 24.5%,#009cff 24.5% 25%,#0046ff 25% 25.5%,#004aff 25.5% 26%,#0089ff 26% 26.5%,#009aff 26.5% 27%,#0087ff 27% 27.5%,#0029ff 27.5% 28%,#0030ff 28% 28.5%,#003eff 28.5% 29%,#0093ff 29% 29.5%,#0081ff 29.5% 30%,#002fff 30% 30.5%,#0033ff 30.5% 31%,#002bff 31% 31.5%,#0027ff 31.5% 32%,#002eff 32% 32.5%,#005fff 32.5% 33%,#005bff 33% 33.5%,#001dff 33.5% 34%,#002aff 34% 34.5%,#001cff 34.5% 35%,#0024ff 35% 35.5%,#0093ff 35.5% 36%,#0091ff 36% 36.5%,#0067ff 36.5% 37%,#0031ff 37% 37.5%,#0028ff 37.5% 38%,#00beff 38% 38.5%,#00ddff 38.5% 39%,#0082ff 39% 39.5%,#002eff 39.5% 40%,#0033ff 40% 40.5%,#005aff 40.5% 41%,#007fff 41% 41.5%,#004eff 41.5% 42%,#001fff 42% 42.5%,#001bff 42.5% 43%,#0025ff 43% 43.5%,#0026ff 43.5% 44%,#0094ff 44% 44.5%,#008cff 44.5% 45%,#001cff 45% 45.5%,#001dff 45.5% 46%,#000eff 46% 46.5%,#0004ff 46.5% 47%,#0000fe 47% 47.5%,#0002ff 47.5% 48%,#0000fd 48% 48.5%,#0000f9 48.5% 49%,#0001ff 49% 49.5%,#0004ff 49.5% 50%,#0009ff 50% 51%,#0004ff 51% 51.5%,#0047ff 51.5% 52%,#0049ff 52% 52.5%,#0015ff 52.5% 53%,#0046ff 53% 53.5%,#0000ee 53.5% 54%,#0000eb 54% 54.5%,#0000f0 54.5% 55%,#0000ea 55% 55.5%,#0000eb 55.5% 56%,#0000e1 56% 56.5%,#0000de 56.5% 57%,#0000df 57% 57.5%,#0000e3 57.5% 58%,#0000e1 58% 58.5%,#0000b4 58.5% 59.5%,#0002ff 59.5% 60%,#0000d3 60% 60.5%,#0000da 60.5% 61%,#0000d8 61% 61.5%,#0000d4 61.5% 62%,#0000ab 62% 62.5%,#000086 62.5% 63%,#000083 63% 63.5%,#000085 63.5% 64%,#000083 64% 64.5%,#000084 64.5% 65%,#000083 65% 65.5%,#000081 65.5% 66%,#000080 66% 67%,#000081 67% 67.5%,#000080 67.5% 69.5%,#000082 69.5% 70.5%,#000083 70.5% 71%,#000084 71% 72.5%,#000083 72.5% 73.5%,#000086 73.5% 74.5%,#00009d 74.5% 75%,#0000b3 75% 75.5%,#0000cc 75.5% 76%,#0000dd 76% 76.5%,#0000f1 76.5% 77%,#0003ff 77% 77.5%,#0010ff 77.5% 78%,#0030ff 78% 78.5%,#009aff 78.5% 79%,#00baff 79% 79.5%,#04fffb 79.5% 80%,#15ffea 80% 80.5%,#70ff8f 80.5% 81%,#7dff82 81% 81.5%,#7bff84 81.5% 82%,#7cff83 82% 82.5%,#82ff7d 82.5% 83%,#00feff 83% 83.5%,#00f4ff 83.5% 84%,#008cff 84% 84.5%,#008aff 84.5% 85%,#0021ff 85% 85.5%,#0009ff 85.5% 86%,#0008ff 86% 86.5%,#000eff 86.5% 87%,#0000fd 87% 87.5%,#0003ff 87.5% 88%,#0000fe 88% 88.5%,#0000fa 88.5% 89%,#0000ff 89% 89.5%,#0039ff 89.5% 90%,#007dff 90% 90.5%,#00b2ff 90.5% 91%,#00f3ff 91% 91.5%,#2affd5 91.5% 92%,#32ffcd 92% 92.5%,#34ffcb 92.5% 93%,#00efff 93% 93.5%,#00eeff 93.5% 94%,#009dff 94% 94.5%,#00abff 94.5% 95%,#00edff 95% 95.5%,#01fffe 95.5% 96%,#0afff5 96% 96.5%,#00d1ff 96.5% 97%,#00a3ff 97% 97.5%,#00aaff 97.5% 98%,#00f6ff 98% 98.5%,#00e9ff 98.5% 99%,#00b5ff 99% 99.5%,#00adff 99.5% 100%)"></div>
<div class="hr" style="left:225.4px;top:1448.42px;width:349.0px;height:63.44px;background:linear-gradient(90deg,#000093 0% 1.5%,#000094 1.5% 2%,#000093 2% 2.5%,#000092 2.5% 3%,#000094 3% 3.5%,#000092 3.5% 4%,#000093 4% 4.5%,#000094 4.5% 5%,#000097 5% 6%,#000099 6% 6.5%,#00009c 6.5% 7%,#00009e 7% 7.5%,#0000a3 7.5% 8%,#0000a9 8% 8.5%,#0000c0 8.5% 9%,#0000c6 9% 9.5%,#0000ce 9.5% 10%,#0000d6 10% 10.5%,#0000d8 10.5% 11%,#0000de 11% 11.5%,#0000db 11.5% 12%,#0000df 12% 12.5%,#0000dc 12.5% 13%,#0017ff 13% 13.5%,#001cff 13.5% 14%,#009bff 14% 14.5%,#00c1ff 14.5% 15%,#38ffc7 15% 15.5%,#66ff99 15.5% 16%,#fcff03 16% 16.5%,#ffe700 16.5% 17%,#ff9400 17% 17.5%,#ff4e00 17.5% 18%,#ff3400 18% 18.5%,#ff7a00 18.5% 19%,#ff8300 19% 19.5%,#ff3400 19.5% 20%,#ff3100 20% 20.5%,#ff6400 20.5% 21%,#ff6600 21% 21.5%,#ff0700 21.5% 22%,#e60000 22% 22.5%,#a10000 22.5% 23%,#980000 23% 23.5%,#a50000 23.5% 24%,#ff0100 24% 24.5%,#fc0000 24.5% 25%,#ff0600 25% 26%,#9a0000 26% 26.5%,#980000 26.5% 27%,#ea0000 27% 27.5%,#800000 27.5% 28%,#810000 28% 28.5%,#800000 28.5% 35%,#810000 35% 35.5%,#800000 35.5% 41.5%,#810000 41.5% 42%,#800000 42% 57%,#9e0000 57% 57.5%,#fc0000 57.5% 58%,#ff5200 58% 58.5%,#ff4e00 58.5% 59%,#fd0000 59% 59.5%,#ff4d00 59.5% 60%,#ff5900 60% 60.5%,#990000 60.5% 61%,#9f0000 61% 61.5%,#a30000 61.5% 62%,#ff9800 62% 62.5%,#ffbd00 62.5% 63%,#ffd900 63% 63.5%,#ffd800 63.5% 64%,#ffb900 64% 64.5%,#ffd900 64.5% 65%,#ffe600 65% 65.5%,#ffc900 65.5% 66%,#ffc100 66% 66.5%,#ffbc00 66.5% 67%,#ffbf00 67% 67.5%,#ffc900 67.5% 68%,#fffe00 68% 68.5%,#feff01 68.5% 69%,#faff05 69% 69.5%,#b8ff47 69.5% 70%,#afff50 70% 70.5%,#b3ff4c 70.5% 71%,#80ff7f 71% 71.5%,#87ff78 71.5% 72.5%,#7dff82 72.5% 73%,#84ff7b 73% 73.5%,#b9ff46 73.5% 74%,#fbff04 74% 74.5%,#c8ff37 74.5% 75%,#b5ff4a 75% 75.5%,#abff54 75.5% 76%,#afff50 76% 76.5%,#adff52 76.5% 77%,#b3ff4c 77% 77.5%,#abff54 77.5% 78%,#bcff43 78% 78.5%,#ffb900 78.5% 79%,#d90000 79% 79.5%,#800000 79.5% 85.5%,#ff9e00 85.5% 86%,#a2ff5d 86% 86.5%,#07fff8 86.5% 87.5%,#0063ff 87.5% 88%,#0038ff 88% 88.5%,#001bff 88.5% 89%,#0000f1 89% 89.5%,#0000e6 89.5% 90%,#0000df 90% 90.5%,#0000e2 90.5% 91%,#0000da 91% 91.5%,#0000d7 91.5% 92%,#0000d3 92% 92.5%,#0000d7 92.5% 93%,#0000d3 93% 93.5%,#0000c7 93.5% 94%,#0000cb 94% 94.5%,#0000b8 94.5% 95%,#0000ba 95% 95.5%,#0000a2 95.5% 96%,#00009f 96% 96.5%,#00009c 96.5% 97%,#00009e 97% 97.5%,#00009c 97.5% 98%,#00009b 98% 98.5%,#00009c 98.5% 99%,#00009a 99% 99.5%,#000099 99.5% 100%)"></div>
<div class="hr" style="left:225.4px;top:1511.56px;width:349.0px;height:63.44px;background:linear-gradient(90deg,#0000ad 0% 0.5%,#0000b0 0.5% 1.5%,#0000b2 1.5% 2%,#0000a9 2% 2.5%,#0000b4 2.5% 3%,#0000ad 3% 3.5%,#0000c4 3.5% 4%,#0000e7 4% 4.5%,#0000ef 4.5% 5%,#0000f1 5% 5.5%,#0017ff 5.5% 6%,#001dff 6% 6.5%,#001bff 6.5% 7%,#001eff 7% 7.5%,#0000de 7.5% 8%,#0000e7 8% 8.5%,#0000c0 8.5% 9%,#0000a3 9% 9.5%,#00009d 9.5% 10%,#000098 10% 10.5%,#0000a2 10.5% 11%,#000098 11% 11.5%,#00009b 11.5% 12%,#00009d 12% 12.5%,#00009a 12.5% 13%,#0000b4 13% 13.5%,#0000cc 13.5% 14%,#0000d9 14% 14.5%,#0000cc 14.5% 15%,#00009a 15% 15.5%,#000099 15.5% 16%,#0000a6 16% 16.5%,#0000a0 16.5% 17%,#0000a5 17% 17.5%,#0000c7 17.5% 18%,#0000c6 18% 18.5%,#00009e 18.5% 19%,#00009c 19% 21%,#000099 21% 22%,#000098 22% 22.5%,#000096 22.5% 23%,#000095 23% 23.5%,#000093 23.5% 24%,#000092 24% 24.5%,#000094 24.5% 25%,#000096 25% 25.5%,#000097 25.5% 26%,#000098 26% 27%,#00009a 27% 27.5%,#00009b 27.5% 28%,#00009d 28% 28.5%,#00009e 28.5% 29%,#000097 29% 29.5%,#0000c2 29.5% 30%,#0000c0 30% 30.5%,#0000a7 30.5% 31%,#000099 31% 31.5%,#00009c 31.5% 32%,#00009d 32% 32.5%,#00009b 32.5% 33%,#000098 33% 34.5%,#000095 34.5% 35.5%,#000093 35.5% 36%,#000094 36% 36.5%,#000096 36.5% 37%,#000097 37% 37.5%,#00009a 37.5% 38%,#00009d 38% 38.5%,#0000a1 38.5% 39%,#0000c0 39% 39.5%,#0000b4 39.5% 40%,#00009a 40% 40.5%,#000099 40.5% 41%,#00009b 41% 41.5%,#00009a 41.5% 42%,#00009c 42% 42.5%,#00009b 42.5% 43%,#00009d 43% 44%,#00009e 44% 44.5%,#0000a1 44.5% 45%,#0000a4 45% 46%,#0000f3 46% 46.5%,#0000ef 46.5% 47%,#0000e7 47% 47.5%,#0000a2 47.5% 48%,#0000a4 48% 48.5%,#00009e 48.5% 49.5%,#00009c 49.5% 50.5%,#00009b 50.5% 51%,#00009c 51% 51.5%,#00009a 51.5% 52%,#000099 52% 52.5%,#00009a 52.5% 53%,#0000df 53% 54%,#0000c0 54% 54.5%,#000098 54.5% 55%,#00009a 55% 55.5%,#000099 55.5% 56.5%,#00009a 56.5% 57.5%,#000098 57.5% 58%,#00009a 58% 58.5%,#000099 58.5% 59%,#00009a 59% 59.5%,#000099 59.5% 60%,#00009a 60% 61%,#000098 61% 62%,#0000b8 62% 62.5%,#0000b0 62.5% 63%,#000098 63% 63.5%,#000099 63.5% 65%,#00009a 65% 65.5%,#000098 65.5% 66%,#000099 66% 67%,#0000c8 67% 67.5%,#0000c5 67.5% 68%,#00009a 68% 68.5%,#000099 68.5% 69%,#00009b 69% 70%,#00009c 70% 70.5%,#00009e 70.5% 71%,#00009a 71% 71.5%,#0000a4 71.5% 72%,#0000de 72% 72.5%,#0000eb 72.5% 73%,#0000ee 73% 73.5%,#0000bf 73.5% 74%,#00009c 74% 74.5%,#0000a7 74.5% 75%,#000098 75% 75.5%,#00009e 75.5% 76.5%,#00009d 76.5% 78.5%,#00009b 78.5% 79.5%,#000099 79.5% 80%,#00009b 80% 80.5%,#000099 80.5% 81.5%,#000098 81.5% 82%,#0000bd 82% 82.5%,#0000b3 82.5% 83%,#000098 83% 83.5%,#000099 83.5% 84%,#000098 84% 84.5%,#000099 84.5% 85%,#000098 85% 85.5%,#00009a 85.5% 86%,#000099 86% 86.5%,#000098 86.5% 87%,#000099 87% 88%,#00009a 88% 88.5%,#000099 88.5% 89%,#00009a 89% 89.5%,#000098 89.5% 90.5%,#00009a 90.5% 91%,#000099 91% 91.5%,#000098 91.5% 92.5%,#0000bd 92.5% 93%,#0000c0 93% 93.5%,#000099 93.5% 94%,#00009b 94% 94.5%,#000099 94.5% 95%,#00009a 95% 95.5%,#00009b 95.5% 96.5%,#00009d 96.5% 97%,#00009c 97% 98%,#00009e 98% 98.5%,#000097 98.5% 99%,#00009e 99% 99.5%,#00009a 99.5% 100%)"></div>
<div class="hr" style="left:589.4px;top:708.0px;width:25.6px;height:316.0px;background:linear-gradient(180deg,#870000 0% 1.5625%,#970000 1.5625% 3.125%,#a70000 3.125% 4.6875%,#b70000 4.6875% 6.25%,#c70000 6.25% 7.8125%,#d70000 7.8125% 9.375%,#e70000 9.375% 10.9375%,#f70000 10.9375% 12.5%,#ff0800 12.5% 14.0625%,#ff1800 14.0625% 15.625%,#ff2800 15.625% 17.1875%,#ff3800 17.1875% 18.75%,#ff4800 18.75% 20.3125%,#ff5800 20.3125% 21.875%,#ff6800 21.875% 23.4375%,#ff7800 23.4375% 25%,#ff8700 25% 26.5625%,#ff9700 26.5625% 28.125%,#ffa700 28.125% 29.6875%,#ffb700 29.6875% 31.25%,#ffc700 31.25% 32.8125%,#ffd700 32.8125% 34.375%,#ffe700 34.375% 35.9375%,#fff700 35.9375% 37.5%,#f7ff08 37.5% 39.0625%,#e7ff18 39.0625% 40.625%,#d7ff28 40.625% 42.1875%,#c7ff38 42.1875% 43.75%,#b7ff48 43.75% 45.3125%,#a7ff58 45.3125% 46.875%,#97ff68 46.875% 48.4375%,#87ff78 48.4375% 50%,#78ff87 50% 51.5625%,#68ff97 51.5625% 53.125%,#58ffa7 53.125% 54.6875%,#48ffb7 54.6875% 56.25%,#38ffc7 56.25% 57.8125%,#28ffd7 57.8125% 59.375%,#18ffe7 59.375% 60.9375%,#08fff7 60.9375% 62.5%,#00f7ff 62.5% 64.0625%,#00e7ff 64.0625% 65.625%,#00d7ff 65.625% 67.1875%,#00c7ff 67.1875% 68.75%,#00b7ff 68.75% 70.3125%,#00a7ff 70.3125% 71.875%,#0097ff 71.875% 73.4375%,#0087ff 73.4375% 75%,#0078ff 75% 76.5625%,#0068ff 76.5625% 78.125%,#0058ff 78.125% 79.6875%,#0048ff 79.6875% 81.25%,#0038ff 81.25% 82.8125%,#0028ff 82.8125% 84.375%,#0018ff 84.375% 85.9375%,#0008ff 85.9375% 87.5%,#0000f7 87.5% 89.0625%,#0000e7 89.0625% 90.625%,#0000d7 90.625% 92.1875%,#0000c7 92.1875% 93.75%,#0000b7 93.75% 95.3125%,#0000a7 95.3125% 96.875%,#000097 96.875% 98.4375%,#000087 98.4375% 100%)"></div>
<div class="hr" style="left:589.3px;top:1259.0px;width:25.7px;height:315.70000000000005px;background:linear-gradient(180deg,#870000 0% 1.5625%,#970000 1.5625% 3.125%,#a70000 3.125% 4.6875%,#b70000 4.6875% 6.25%,#c70000 6.25% 7.8125%,#d70000 7.8125% 9.375%,#e70000 9.375% 10.9375%,#f70000 10.9375% 12.5%,#ff0800 12.5% 14.0625%,#ff1800 14.0625% 15.625%,#ff2800 15.625% 17.1875%,#ff3800 17.1875% 18.75%,#ff4800 18.75% 20.3125%,#ff5800 20.3125% 21.875%,#ff6800 21.875% 23.4375%,#ff7800 23.4375% 25%,#ff8700 25% 26.5625%,#ff9700 26.5625% 28.125%,#ffa700 28.125% 29.6875%,#ffb700 29.6875% 31.25%,#ffc700 31.25% 32.8125%,#ffd700 32.8125% 34.375%,#ffe700 34.375% 35.9375%,#fff700 35.9375% 37.5%,#f7ff08 37.5% 39.0625%,#e7ff18 39.0625% 40.625%,#d7ff28 40.625% 42.1875%,#c7ff38 42.1875% 43.75%,#b7ff48 43.75% 45.3125%,#a7ff58 45.3125% 46.875%,#97ff68 46.875% 48.4375%,#87ff78 48.4375% 50%,#78ff87 50% 51.5625%,#68ff97 51.5625% 53.125%,#58ffa7 53.125% 54.6875%,#48ffb7 54.6875% 56.25%,#38ffc7 56.25% 57.8125%,#28ffd7 57.8125% 59.375%,#18ffe7 59.375% 60.9375%,#08fff7 60.9375% 62.5%,#00f7ff 62.5% 64.0625%,#00e7ff 64.0625% 65.625%,#00d7ff 65.625% 67.1875%,#00c7ff 67.1875% 68.75%,#00b7ff 68.75% 70.3125%,#00a7ff 70.3125% 71.875%,#0097ff 71.875% 73.4375%,#0087ff 73.4375% 75%,#0078ff 75% 76.5625%,#0068ff 76.5625% 78.125%,#0058ff 78.125% 79.6875%,#0048ff 79.6875% 81.25%,#0038ff 81.25% 82.8125%,#0028ff 82.8125% 84.375%,#0018ff 84.375% 85.9375%,#0008ff 85.9375% 87.5%,#0000f7 87.5% 89.0625%,#0000e7 89.0625% 90.625%,#0000d7 90.625% 92.1875%,#0000c7 92.1875% 93.75%,#0000b7 93.75% 95.3125%,#0000a7 95.3125% 96.875%,#000097 96.875% 98.4375%,#000087 98.4375% 100%)"></div>
<svg width="675" height="1635" viewBox="0 0 675 1635">
<text transform="translate(13.23,49.80) scale(0.9887,1)" xml:space="preserve" font-family='"Liberation Serif", serif' font-weight="bold" font-size="68" fill="#000">A</text>
<rect x="135.0" y="32.0" width="533.5" height="420.0" fill="none" stroke="#000" stroke-width="2.6"/>
<path d="M179.2 32.0v6.2M179.2 452.0v-6.2M268.1 32.0v6.2M268.1 452.0v-6.2M357.0 32.0v6.2M357.0 452.0v-6.2M445.9 32.0v6.2M445.9 452.0v-6.2M534.8 32.0v6.2M534.8 452.0v-6.2M623.7 32.0v6.2M623.7 452.0v-6.2M135.0 395.9h6.2M668.5 395.9h-6.2M135.0 339.9h6.2M668.5 339.9h-6.2M135.0 283.8h6.2M668.5 283.8h-6.2M135.0 227.8h6.2M668.5 227.8h-6.2M135.0 171.8h6.2M668.5 171.8h-6.2M135.0 115.7h6.2M668.5 115.7h-6.2M135.0 59.6h6.2M668.5 59.6h-6.2" stroke="#000" stroke-width="2" fill="none"/>
<text transform="translate(98.94,457.20) scale(1.0213,1)" xml:space="preserve" font-family='"Liberation Sans", sans-serif' font-weight="bold" font-size="23.5" fill="#212121">0</text>
<text transform="translate(89.58,345.10) scale(0.9827,1)" xml:space="preserve" font-family='"Liberation Sans", sans-serif' font-weight="bold" font-size="23.5" fill="#212121">0.1</text>
<text transform="translate(89.57,233.00) scale(0.9940,1)" xml:space="preserve" font-family='"Liberation Sans", sans-serif' font-weight="bold" font-size="23.5" fill="#212121">0.2</text>
<text transform="translate(89.57,120.90) scale(0.9902,1)" xml:space="preserve" font-family='"Liberation Sans", sans-serif' font-weight="bold" font-size="23.5" fill="#212121">0.3</text>
<text transform="translate(74.5,239.5) rotate(-90)" text-anchor="middle" font-family='"Liberation Sans", sans-serif' font-weight="bold" font-size="24" fill="#2b2b2b">JC-9 Ratio (Memb. Pot’l, ΔΨ)</text>
<text transform="translate(188.7,476.5) rotate(-35)" text-anchor="end" font-family='"Liberation Sans", sans-serif' font-weight="bold" font-size="24" fill="#000">control</text>
<text transform="translate(279.6,478.0) rotate(-35)" text-anchor="end" font-family='"Liberation Sans", sans-serif' font-weight="bold" font-style="italic" font-size="24" fill="#000">daf-2</text>
<text transform="translate(366.5,478.0) rotate(-35)" text-anchor="end" font-family='"Liberation Sans", sans-serif' font-weight="bold" font-style="italic" font-size="24" fill="#000">daf-16</text>
<text transform="translate(459.9,472.5) rotate(-35)" text-anchor="end" font-family='"Liberation Sans", sans-serif' font-weight="bold" font-style="italic" font-size="24" fill="#000">daf-16; daf-2;</text>
<text transform="translate(543.3,477.0) rotate(-35)" text-anchor="end" font-family='"Liberation Sans", sans-serif' font-weight="bold" font-style="italic" font-size="24" fill="#000">age-1</text>
<text transform="translate(638.2,479.0) rotate(-35)" text-anchor="end" font-family='"Liberation Sans", sans-serif' font-weight="bold" font-style="italic" font-size="24" fill="#000">eat-2</text>
<rect x="156.9" y="326.2" width="44.6" height="6.1" fill="#cfcfcf"/>
<rect x="245.8" y="322.0" width="44.6" height="6.0" fill="#dcdcdc"/>
<rect x="334.7" y="317.6" width="44.6" height="8.7" fill="#fff"/>
<rect x="423.6" y="319.8" width="44.6" height="7.6" fill="#fff"/>
<rect x="512.5" y="326.8" width="44.6" height="4.9" fill="#000"/>
<rect x="601.4" y="315.2" width="44.6" height="11.5" fill="#fff"/>
<path d="M156.9 326.2H201.5V332.3H156.9ZM156.9 330.2H201.5M168.2 317.0h22M168.2 340.9h22M245.8 322.0H290.4V328.0H245.8ZM245.8 325.0H290.4M257.1 313.2h22M257.1 336.9h22M334.7 317.6H379.3V326.3H334.7ZM334.7 322.8H379.3M346.0 302.6h22M346.0 339.6h22M423.6 319.8H468.2V327.4H423.6ZM423.6 324.4H468.2M434.9 306.2h22M434.9 339.0h22M512.5 326.8H557.1V331.7H512.5ZM512.5 329.2H557.1M523.8 320.0h22M523.8 337.6h22M601.4 315.2H646.0V326.7H601.4ZM601.4 320.9H646.0M612.7 299.6h22M612.7 338.5h22" stroke="#000" stroke-width="2.1" fill="none" stroke-linejoin="miter"/>
<path d="M179.2 325.2V317.0M179.2 340.9V333.3M268.1 321.0V313.2M268.1 336.9V329.0M357.0 316.6V302.6M357.0 339.6V327.3M445.9 318.8V306.2M445.9 339.0V328.4M534.8 325.8V320.0M534.8 337.6V332.7M623.7 314.2V299.6M623.7 338.5V327.7" stroke="#000" stroke-width="2.1" fill="none" stroke-dasharray="5.5 4.4"/>
<path d="M175.5 171.2h7.4M179.2 167.5v7.4M175.5 248h7.4M179.2 244.3v7.4M175.5 295.3h7.4M179.2 291.6v7.4M175.5 297.6h7.4M179.2 293.9v7.4M175.5 313.8h7.4M179.2 310.1v7.4M264.4 71.7h7.4M268.1 68.0v7.4M264.4 79.6h7.4M268.1 75.9v7.4M264.4 91.2h7.4M268.1 87.5v7.4M264.4 94.5h7.4M268.1 90.8v7.4M264.4 123.9h7.4M268.1 120.2v7.4M264.4 180.4h7.4M268.1 176.7v7.4M264.4 183.1h7.4M268.1 179.4v7.4M264.4 186.4h7.4M268.1 182.7v7.4M264.4 192.8h7.4M268.1 189.1v7.4M264.4 207.5h7.4M268.1 203.8v7.4M264.4 212.1h7.4M268.1 208.4v7.4M264.4 218.7h7.4M268.1 215.0v7.4M264.4 225h7.4M268.1 221.3v7.4M264.4 227.3h7.4M268.1 223.6v7.4M264.4 241h7.4M268.1 237.3v7.4M264.4 242.5h7.4M268.1 238.8v7.4M264.4 245.1h7.4M268.1 241.4v7.4M264.4 250.1h7.4M268.1 246.4v7.4M264.4 257.8h7.4M268.1 254.1v7.4M264.4 266.5h7.4M268.1 262.8v7.4M264.4 268h7.4M268.1 264.3v7.4M264.4 278h7.4M268.1 274.3v7.4M264.4 279.5h7.4M268.1 275.8v7.4M264.4 281h7.4M268.1 277.3v7.4M264.4 287.3h7.4M268.1 283.6v7.4M264.4 288.8h7.4M268.1 285.1v7.4M264.4 294h7.4M268.1 290.3v7.4M264.4 295.5h7.4M268.1 291.8v7.4M264.4 303.5h7.4M268.1 299.8v7.4M264.4 304.5h7.4M268.1 300.8v7.4M264.4 305.5h7.4M268.1 301.8v7.4M264.4 306.5h7.4M268.1 302.8v7.4M264.4 307.5h7.4M268.1 303.8v7.4M264.4 308.5h7.4M268.1 304.8v7.4M264.4 309.5h7.4M268.1 305.8v7.4M264.4 310.5h7.4M268.1 306.8v7.4M264.4 311.5h7.4M268.1 307.8v7.4M264.4 338.7h7.4M268.1 335.0v7.4M264.4 342.6h7.4M268.1 338.9v7.4M264.4 348.8h7.4M268.1 345.1v7.4M264.4 350.2h7.4M268.1 346.5v7.4M264.4 357.4h7.4M268.1 353.7v7.4M353.3 86.5h7.4M357.0 82.8v7.4M353.3 117.4h7.4M357.0 113.7v7.4M353.3 129.7h7.4M357.0 126.0v7.4M353.3 143.2h7.4M357.0 139.5v7.4M353.3 145h7.4M357.0 141.3v7.4M353.3 155h7.4M357.0 151.3v7.4M353.3 181.5h7.4M357.0 177.8v7.4M353.3 193.3h7.4M357.0 189.6v7.4M353.3 209.5h7.4M357.0 205.8v7.4M353.3 212h7.4M357.0 208.3v7.4M353.3 220.4h7.4M357.0 216.7v7.4M353.3 223.7h7.4M357.0 220.0v7.4M353.3 228h7.4M357.0 224.3v7.4M353.3 230h7.4M357.0 226.3v7.4M353.3 232h7.4M357.0 228.3v7.4M353.3 239.1h7.4M357.0 235.4v7.4M353.3 248.5h7.4M357.0 244.8v7.4M353.3 250h7.4M357.0 246.3v7.4M353.3 255h7.4M357.0 251.3v7.4M353.3 258.4h7.4M357.0 254.7v7.4M353.3 266.5h7.4M357.0 262.8v7.4M353.3 268h7.4M357.0 264.3v7.4M353.3 272.7h7.4M357.0 269.0v7.4M353.3 276h7.4M357.0 272.3v7.4M353.3 279.3h7.4M357.0 275.6v7.4M353.3 287h7.4M357.0 283.3v7.4M353.3 288.0h7.4M357.0 284.3v7.4M353.3 289.0h7.4M357.0 285.3v7.4M353.3 290.0h7.4M357.0 286.3v7.4M353.3 291.0h7.4M357.0 287.3v7.4M353.3 292.0h7.4M357.0 288.3v7.4M353.3 293.0h7.4M357.0 289.3v7.4M353.3 294.0h7.4M357.0 290.3v7.4M353.3 295.0h7.4M357.0 291.3v7.4M353.3 296.0h7.4M357.0 292.3v7.4M353.3 297.0h7.4M357.0 293.3v7.4M353.3 298.0h7.4M357.0 294.3v7.4M353.3 299.0h7.4M357.0 295.3v7.4M353.3 300.0h7.4M357.0 296.3v7.4M353.3 301.0h7.4M357.0 297.3v7.4M353.3 345.9h7.4M357.0 342.2v7.4M442.2 70.2h7.4M445.9 66.5v7.4M442.2 81.2h7.4M445.9 77.5v7.4M442.2 90.6h7.4M445.9 86.9v7.4M442.2 139.5h7.4M445.9 135.8v7.4M442.2 152.8h7.4M445.9 149.1v7.4M442.2 182.5h7.4M445.9 178.8v7.4M442.2 214.3h7.4M445.9 210.6v7.4M442.2 222.6h7.4M445.9 218.9v7.4M442.2 241h7.4M445.9 237.3v7.4M442.2 242.5h7.4M445.9 238.8v7.4M442.2 246.2h7.4M445.9 242.5v7.4M442.2 254.5h7.4M445.9 250.8v7.4M442.2 259.5h7.4M445.9 255.8v7.4M442.2 271.3h7.4M445.9 267.6v7.4M442.2 272.8h7.4M445.9 269.1v7.4M442.2 276h7.4M445.9 272.3v7.4M442.2 279.8h7.4M445.9 276.1v7.4M442.2 284h7.4M445.9 280.3v7.4M442.2 285.0h7.4M445.9 281.3v7.4M442.2 286.0h7.4M445.9 282.3v7.4M442.2 287.0h7.4M445.9 283.3v7.4M442.2 288.0h7.4M445.9 284.3v7.4M442.2 289.0h7.4M445.9 285.3v7.4M442.2 290.0h7.4M445.9 286.3v7.4M442.2 291.0h7.4M445.9 287.3v7.4M442.2 292.0h7.4M445.9 288.3v7.4M442.2 293.0h7.4M445.9 289.3v7.4M442.2 294.0h7.4M445.9 290.3v7.4M442.2 295.0h7.4M445.9 291.3v7.4M442.2 296.0h7.4M445.9 292.3v7.4M442.2 297.0h7.4M445.9 293.3v7.4M442.2 298.0h7.4M445.9 294.3v7.4M442.2 299.0h7.4M445.9 295.3v7.4M442.2 300.0h7.4M445.9 296.3v7.4M442.2 301.0h7.4M445.9 297.3v7.4M442.2 302.0h7.4M445.9 298.3v7.4M442.2 303.0h7.4M445.9 299.3v7.4M442.2 304.0h7.4M445.9 300.3v7.4M442.2 305.0h7.4M445.9 301.3v7.4M442.2 306.0h7.4M445.9 302.3v7.4M531.1 218.4h7.4M534.8 214.7v7.4M531.1 227.5h7.4M534.8 223.8v7.4M531.1 253.5h7.4M534.8 249.8v7.4M531.1 267h7.4M534.8 263.3v7.4M531.1 268.5h7.4M534.8 264.8v7.4M531.1 288.9h7.4M534.8 285.2v7.4M531.1 293.3h7.4M534.8 289.6v7.4M531.1 305.6h7.4M534.8 301.9v7.4M531.1 312h7.4M534.8 308.3v7.4M531.1 313.0h7.4M534.8 309.3v7.4M531.1 314.0h7.4M534.8 310.3v7.4M531.1 315.0h7.4M534.8 311.3v7.4M531.1 316.0h7.4M534.8 312.3v7.4M531.1 317.0h7.4M534.8 313.3v7.4M531.1 318.0h7.4M534.8 314.3v7.4M531.1 319.0h7.4M534.8 315.3v7.4M531.1 340h7.4M534.8 336.3v7.4M531.1 341.5h7.4M534.8 337.8v7.4M620.0 268.3h7.4M623.7 264.6v7.4M620.0 289.3h7.4M623.7 285.6v7.4" stroke="#000" stroke-width="2.45" fill="none"/>
<path d="M181.7 370.6V394.5H537.3V370.6" stroke="#000" stroke-width="3.4" fill="none"/>
<text transform="translate(329.66,417.30) scale(0.9839,1)" xml:space="preserve" font-family='"Liberation Sans", sans-serif' font-weight="bold" font-size="22.5" fill="#1c1c1c">n.s.</text>
<text transform="translate(259.11,61.50) scale(1.0101,1)" xml:space="preserve" font-family='"Liberation Sans", sans-serif' font-weight="bold" font-size="22" fill="#1a1a1a">Ω</text>
<text transform="translate(337.13,75.80) scale(0.9936,1)" xml:space="preserve" font-family='"Liberation Sans", sans-serif' font-weight="bold" font-size="22" fill="#1a1a1a">Ω,Θ</text>
<text transform="translate(427.03,60.80) scale(0.9910,1)" xml:space="preserve" font-family='"Liberation Sans", sans-serif' font-weight="bold" font-size="22" fill="#1a1a1a">Ω,Θ</text>
<text transform="translate(525.93,203.90) scale(0.9876,1)" xml:space="preserve" font-family='"Liberation Sans", sans-serif' font-weight="bold" font-size="22" fill="#1a1a1a">Θ</text>
<text transform="translate(603.83,253.30) scale(0.9834,1)" xml:space="preserve" font-family='"Liberation Sans", sans-serif' font-weight="bold" font-size="22" fill="#1a1a1a">Ω,Θ</text>
<text transform="translate(13.30,625.30) scale(0.8871,1)" xml:space="preserve" font-family='"Liberation Serif", serif' font-weight="bold" font-size="68" fill="#000">B</text>
<text transform="translate(213.46,622.80) scale(1.0111,1)" xml:space="preserve" font-family='"Liberation Sans", sans-serif' font-weight="bold" font-size="28.8" fill="#212121">JC-9 Ratio (Memb. Pot’l, ΔΨ)</text>
<clipPath id="wc0"><path d="M243.1 659.6C243.9 658.6 246.0 655.4 248.0 653.5C250.0 651.6 252.4 649.5 255.2 648.3C258.0 647.1 261.4 646.0 265.0 646.3C268.6 646.6 272.8 648.5 277.0 650.0C281.2 651.5 284.4 653.1 290.4 655.3C296.4 657.5 307.0 661.4 312.9 663.2C318.8 665.0 319.9 665.7 325.5 666.0C331.1 666.3 338.5 666.5 346.7 665.2C354.9 663.9 365.9 660.5 374.8 658.1C383.7 655.8 394.2 652.6 400.1 651.1C406.0 649.6 405.5 649.7 410.0 649.1C414.5 648.5 421.3 647.4 426.9 647.4C432.5 647.4 437.2 647.5 443.8 649.1C450.4 650.7 458.8 653.8 466.3 656.7C473.8 659.6 482.7 664.1 488.8 666.6C494.9 669.1 497.3 670.3 502.9 671.7C508.5 673.1 516.5 674.5 522.6 675.0C528.7 675.5 533.9 675.5 539.5 675.0C545.1 674.5 551.6 672.7 556.3 671.7C561.0 670.7 563.1 670.3 567.6 668.8C572.1 667.2 580.5 663.5 583.1 662.4L583.1 662.4C579.8 663.8 568.3 668.0 563.4 670.8C558.5 673.6 557.5 676.7 553.5 679.3C549.5 681.9 544.6 684.6 539.5 686.3C534.4 688.0 528.7 689.1 522.6 689.7C516.5 690.3 508.5 690.0 502.9 689.7C497.3 689.4 494.9 689.2 488.8 687.7C482.7 686.2 473.8 682.9 466.3 680.7C458.8 678.5 450.4 675.7 443.8 674.5C437.2 673.3 432.5 673.3 426.9 673.6C421.3 673.9 415.4 675.0 410.0 676.4C404.6 677.8 400.8 680.0 394.5 682.1C388.2 684.2 380.0 687.4 372.0 689.1C364.0 690.8 354.4 692.0 346.7 692.5C338.9 693.0 331.1 692.2 325.5 691.9C319.9 691.6 317.3 691.4 312.9 690.5C308.4 689.6 304.0 688.4 298.8 686.3C293.6 684.2 287.3 681.1 281.9 677.8C276.5 674.5 270.6 669.0 266.4 666.6C262.2 664.2 259.9 663.9 256.6 663.2C253.3 662.5 248.9 663.0 246.7 662.4C244.4 661.8 243.7 660.1 243.1 659.6Z"/></clipPath>
<g clip-path="url(#wc0)">
<rect x="240" y="640" width="86" height="60" fill="#fdfdfd"/>
<rect x="326" y="640" width="177" height="60" fill="#808080"/>
<rect x="503" y="640" width="90" height="60" fill="#3a3a3a"/>
<rect x="322.8" y="640" width="6.6" height="60" fill="#000"/>
<rect x="500" y="640" width="5.8" height="60" fill="#000"/>
</g>
<path d="M243.1 659.6C243.9 658.6 246.0 655.4 248.0 653.5C250.0 651.6 252.4 649.5 255.2 648.3C258.0 647.1 261.4 646.0 265.0 646.3C268.6 646.6 272.8 648.5 277.0 650.0C281.2 651.5 284.4 653.1 290.4 655.3C296.4 657.5 307.0 661.4 312.9 663.2C318.8 665.0 319.9 665.7 325.5 666.0C331.1 666.3 338.5 666.5 346.7 665.2C354.9 663.9 365.9 660.5 374.8 658.1C383.7 655.8 394.2 652.6 400.1 651.1C406.0 649.6 405.5 649.7 410.0 649.1C414.5 648.5 421.3 647.4 426.9 647.4C432.5 647.4 437.2 647.5 443.8 649.1C450.4 650.7 458.8 653.8 466.3 656.7C473.8 659.6 482.7 664.1 488.8 666.6C494.9 669.1 497.3 670.3 502.9 671.7C508.5 673.1 516.5 674.5 522.6 675.0C528.7 675.5 533.9 675.5 539.5 675.0C545.1 674.5 551.6 672.7 556.3 671.7C561.0 670.7 563.1 670.3 567.6 668.8C572.1 667.2 580.5 663.5 583.1 662.4L583.1 662.4C579.8 663.8 568.3 668.0 563.4 670.8C558.5 673.6 557.5 676.7 553.5 679.3C549.5 681.9 544.6 684.6 539.5 686.3C534.4 688.0 528.7 689.1 522.6 689.7C516.5 690.3 508.5 690.0 502.9 689.7C497.3 689.4 494.9 689.2 488.8 687.7C482.7 686.2 473.8 682.9 466.3 680.7C458.8 678.5 450.4 675.7 443.8 674.5C437.2 673.3 432.5 673.3 426.9 673.6C421.3 673.9 415.4 675.0 410.0 676.4C404.6 677.8 400.8 680.0 394.5 682.1C388.2 684.2 380.0 687.4 372.0 689.1C364.0 690.8 354.4 692.0 346.7 692.5C338.9 693.0 331.1 692.2 325.5 691.9C319.9 691.6 317.3 691.4 312.9 690.5C308.4 689.6 304.0 688.4 298.8 686.3C293.6 684.2 287.3 681.1 281.9 677.8C276.5 674.5 270.6 669.0 266.4 666.6C262.2 664.2 259.9 663.9 256.6 663.2C253.3 662.5 248.9 663.0 246.7 662.4C244.4 661.8 243.7 660.1 243.1 659.6Z" fill="none" stroke="#000" stroke-width="3.1" stroke-linejoin="round"/>
<rect x="226.1" y="708.4" width="348.29999999999995" height="315.2" fill="none" stroke="#000" stroke-opacity="0.5" stroke-width="0.8"/><path d="M269.3 708.0v3.2M269.3 1024.0v-3.2M313.0 708.0v3.2M313.0 1024.0v-3.2M356.6 708.0v3.2M356.6 1024.0v-3.2M400.2 708.0v3.2M400.2 1024.0v-3.2M443.9 708.0v3.2M443.9 1024.0v-3.2M487.5 708.0v3.2M487.5 1024.0v-3.2M531.2 708.0v3.2M531.2 1024.0v-3.2" stroke="#000" stroke-opacity="0.75" stroke-width="0.8" fill="none"/>
<text transform="translate(112.10,746.00) scale(1.0308,1)" xml:space="preserve" font-family='"Liberation Sans", sans-serif' font-weight="bold" font-size="29" fill="#212121">control</text>
<text transform="translate(142.42,799.00) scale(1.0066,1)" xml:space="preserve" font-family='"Liberation Sans", sans-serif' font-weight="bold" font-size="29" fill="#212121"><tspan font-style="italic">daf-2</tspan></text>
<text transform="translate(127.92,851.40) scale(1.0061,1)" xml:space="preserve" font-family='"Liberation Sans", sans-serif' font-weight="bold" font-size="29" fill="#212121"><tspan font-style="italic">daf-16</tspan></text>
<text transform="translate(40.01,903.60) scale(1.0184,1)" xml:space="preserve" font-family='"Liberation Sans", sans-serif' font-weight="bold" font-size="29" fill="#212121"><tspan font-style="italic">daf-16; daf-2</tspan></text>
<text transform="translate(138.85,956.80) scale(1.0142,1)" xml:space="preserve" font-family='"Liberation Sans", sans-serif' font-weight="bold" font-size="29" fill="#212121"><tspan font-style="italic">age-1</tspan></text>
<text transform="translate(149.03,1007.60) scale(0.9977,1)" xml:space="preserve" font-family='"Liberation Sans", sans-serif' font-weight="bold" font-size="29" fill="#212121"><tspan font-style="italic">eat-2</tspan></text>
<text transform="translate(221.11,1042.00) scale(1.0814,1)" xml:space="preserve" font-family='"Liberation Sans", sans-serif' font-weight="bold" font-size="18.3" fill="#212121">0</text>
<text transform="translate(303.54,1042.00) scale(1.0304,1)" xml:space="preserve" font-family='"Liberation Sans", sans-serif' font-weight="bold" font-size="18.3" fill="#212121">25</text>
<text transform="translate(389.22,1042.00) scale(1.0614,1)" xml:space="preserve" font-family='"Liberation Sans", sans-serif' font-weight="bold" font-size="18.3" fill="#212121">50</text>
<text transform="translate(475.33,1042.00) scale(1.0614,1)" xml:space="preserve" font-family='"Liberation Sans", sans-serif' font-weight="bold" font-size="18.3" fill="#212121">75</text>
<text transform="translate(553.11,1042.00) scale(1.0824,1)" xml:space="preserve" font-family='"Liberation Sans", sans-serif' font-weight="bold" font-size="18.3" fill="#212121">100</text>
<text transform="translate(227.29,1071.00) scale(1.0209,1)" xml:space="preserve" font-family='"Liberation Sans", sans-serif' font-weight="bold" font-size="28.8" fill="#212121">Percentage of Length (%)</text>
<rect x="589.4" y="708.0" width="25.6" height="316.0" fill="none" stroke="#000" stroke-opacity="0.55" stroke-width="0.8"/>
<path d="M615 732.8h-4M615 760.4h-4M615 788.0h-4M615 815.6h-4M615 843.2h-4M615 870.8h-4M615 898.4h-4M615 926.0h-4M615 953.6h-4M615 981.2h-4M615 1008.8h-4" stroke="#000" stroke-opacity="0.75" stroke-width="0.8" fill="none"/>
<text transform="translate(621.21,737.40) scale(1.0376,1)" xml:space="preserve" font-family='"Liberation Sans", sans-serif' font-weight="bold" font-size="19" fill="#212121">0.124</text>
<text transform="translate(626.81,795.50) scale(1.0385,1)" xml:space="preserve" font-family='"Liberation Sans", sans-serif' font-weight="bold" font-size="19" fill="#212121">0.12</text>
<text transform="translate(621.18,851.10) scale(1.0748,1)" xml:space="preserve" font-family='"Liberation Sans", sans-serif' font-weight="bold" font-size="19" fill="#212121">0.116</text>
<text transform="translate(621.18,905.80) scale(1.0771,1)" xml:space="preserve" font-family='"Liberation Sans", sans-serif' font-weight="bold" font-size="19" fill="#212121">0.112</text>
<text transform="translate(621.20,961.50) scale(1.0483,1)" xml:space="preserve" font-family='"Liberation Sans", sans-serif' font-weight="bold" font-size="19" fill="#212121">0.108</text>
<text transform="translate(621.21,1017.00) scale(1.0376,1)" xml:space="preserve" font-family='"Liberation Sans", sans-serif' font-weight="bold" font-size="19" fill="#212121">0.104</text>
<text transform="translate(11.40,1165.00) scale(1.0578,1)" xml:space="preserve" font-family='"Liberation Serif", serif' font-weight="bold" font-size="68" fill="#000">C</text>
<text transform="translate(212.26,1179.20) scale(1.0098,1)" xml:space="preserve" font-family='"Liberation Sans", sans-serif' font-weight="bold" font-size="28.8" fill="#212121">log(P-value) against <tspan font-style="italic">daf-2</tspan></text>
<clipPath id="wc554"><path d="M243.1 1214.1C243.9 1213.1 246.0 1209.9 248.0 1208.0C250.0 1206.1 252.4 1204.0 255.2 1202.8C258.0 1201.6 261.4 1200.5 265.0 1200.8C268.6 1201.1 272.8 1203.0 277.0 1204.5C281.2 1206.0 284.4 1207.6 290.4 1209.8C296.4 1212.0 307.0 1215.9 312.9 1217.7C318.8 1219.5 319.9 1220.2 325.5 1220.5C331.1 1220.8 338.5 1221.0 346.7 1219.7C354.9 1218.4 365.9 1215.0 374.8 1212.6C383.7 1210.2 394.2 1207.1 400.1 1205.6C406.0 1204.1 405.5 1204.2 410.0 1203.6C414.5 1203.0 421.3 1201.9 426.9 1201.9C432.5 1201.9 437.2 1202.0 443.8 1203.6C450.4 1205.2 458.8 1208.3 466.3 1211.2C473.8 1214.1 482.7 1218.6 488.8 1221.1C494.9 1223.6 497.3 1224.8 502.9 1226.2C508.5 1227.6 516.5 1229.0 522.6 1229.5C528.7 1230.0 533.9 1230.0 539.5 1229.5C545.1 1229.0 551.6 1227.2 556.3 1226.2C561.0 1225.2 563.1 1224.8 567.6 1223.3C572.1 1221.8 580.5 1218.0 583.1 1216.9L583.1 1216.9C579.8 1218.3 568.3 1222.5 563.4 1225.3C558.5 1228.1 557.5 1231.2 553.5 1233.8C549.5 1236.4 544.6 1239.1 539.5 1240.8C534.4 1242.5 528.7 1243.6 522.6 1244.2C516.5 1244.8 508.5 1244.5 502.9 1244.2C497.3 1243.9 494.9 1243.7 488.8 1242.2C482.7 1240.7 473.8 1237.4 466.3 1235.2C458.8 1233.0 450.4 1230.2 443.8 1229.0C437.2 1227.8 432.5 1227.8 426.9 1228.1C421.3 1228.4 415.4 1229.5 410.0 1230.9C404.6 1232.3 400.8 1234.5 394.5 1236.6C388.2 1238.7 380.0 1241.9 372.0 1243.6C364.0 1245.3 354.4 1246.5 346.7 1247.0C338.9 1247.5 331.1 1246.7 325.5 1246.4C319.9 1246.1 317.3 1245.9 312.9 1245.0C308.4 1244.1 304.0 1242.9 298.8 1240.8C293.6 1238.7 287.3 1235.6 281.9 1232.3C276.5 1229.0 270.6 1223.5 266.4 1221.1C262.2 1218.7 259.9 1218.4 256.6 1217.7C253.3 1217.0 248.9 1217.5 246.7 1216.9C244.4 1216.3 243.7 1214.6 243.1 1214.1Z"/></clipPath>
<g clip-path="url(#wc554)">
<rect x="240" y="1194.5" width="86" height="60" fill="#fdfdfd"/>
<rect x="326" y="1194.5" width="177" height="60" fill="#808080"/>
<rect x="503" y="1194.5" width="90" height="60" fill="#3a3a3a"/>
<rect x="322.8" y="1194.5" width="6.6" height="60" fill="#000"/>
<rect x="500" y="1194.5" width="5.8" height="60" fill="#000"/>
</g>
<path d="M243.1 1214.1C243.9 1213.1 246.0 1209.9 248.0 1208.0C250.0 1206.1 252.4 1204.0 255.2 1202.8C258.0 1201.6 261.4 1200.5 265.0 1200.8C268.6 1201.1 272.8 1203.0 277.0 1204.5C281.2 1206.0 284.4 1207.6 290.4 1209.8C296.4 1212.0 307.0 1215.9 312.9 1217.7C318.8 1219.5 319.9 1220.2 325.5 1220.5C331.1 1220.8 338.5 1221.0 346.7 1219.7C354.9 1218.4 365.9 1215.0 374.8 1212.6C383.7 1210.2 394.2 1207.1 400.1 1205.6C406.0 1204.1 405.5 1204.2 410.0 1203.6C414.5 1203.0 421.3 1201.9 426.9 1201.9C432.5 1201.9 437.2 1202.0 443.8 1203.6C450.4 1205.2 458.8 1208.3 466.3 1211.2C473.8 1214.1 482.7 1218.6 488.8 1221.1C494.9 1223.6 497.3 1224.8 502.9 1226.2C508.5 1227.6 516.5 1229.0 522.6 1229.5C528.7 1230.0 533.9 1230.0 539.5 1229.5C545.1 1229.0 551.6 1227.2 556.3 1226.2C561.0 1225.2 563.1 1224.8 567.6 1223.3C572.1 1221.8 580.5 1218.0 583.1 1216.9L583.1 1216.9C579.8 1218.3 568.3 1222.5 563.4 1225.3C558.5 1228.1 557.5 1231.2 553.5 1233.8C549.5 1236.4 544.6 1239.1 539.5 1240.8C534.4 1242.5 528.7 1243.6 522.6 1244.2C516.5 1244.8 508.5 1244.5 502.9 1244.2C497.3 1243.9 494.9 1243.7 488.8 1242.2C482.7 1240.7 473.8 1237.4 466.3 1235.2C458.8 1233.0 450.4 1230.2 443.8 1229.0C437.2 1227.8 432.5 1227.8 426.9 1228.1C421.3 1228.4 415.4 1229.5 410.0 1230.9C404.6 1232.3 400.8 1234.5 394.5 1236.6C388.2 1238.7 380.0 1241.9 372.0 1243.6C364.0 1245.3 354.4 1246.5 346.7 1247.0C338.9 1247.5 331.1 1246.7 325.5 1246.4C319.9 1246.1 317.3 1245.9 312.9 1245.0C308.4 1244.1 304.0 1242.9 298.8 1240.8C293.6 1238.7 287.3 1235.6 281.9 1232.3C276.5 1229.0 270.6 1223.5 266.4 1221.1C262.2 1218.7 259.9 1218.4 256.6 1217.7C253.3 1217.0 248.9 1217.5 246.7 1216.9C244.4 1216.3 243.7 1214.6 243.1 1214.1Z" fill="none" stroke="#000" stroke-width="3.1" stroke-linejoin="round"/>
<rect x="225.8" y="1259.4" width="348.2" height="314.90000000000003" fill="none" stroke="#000" stroke-opacity="0.5" stroke-width="0.8"/><path d="M269.0 1259.0v3.2M269.0 1574.7v-3.2M312.6 1259.0v3.2M312.6 1574.7v-3.2M356.3 1259.0v3.2M356.3 1574.7v-3.2M399.9 1259.0v3.2M399.9 1574.7v-3.2M443.5 1259.0v3.2M443.5 1574.7v-3.2M487.1 1259.0v3.2M487.1 1574.7v-3.2M530.8 1259.0v3.2M530.8 1574.7v-3.2" stroke="#000" stroke-opacity="0.75" stroke-width="0.8" fill="none"/>
<text transform="translate(80.41,1303.40) scale(1.0147,1)" xml:space="preserve" font-family='"Liberation Sans", sans-serif' font-weight="bold" font-size="29" fill="#212121">to control</text>
<text transform="translate(92.41,1365.70) scale(1.0113,1)" xml:space="preserve" font-family='"Liberation Sans", sans-serif' font-weight="bold" font-size="29" fill="#212121">to <tspan font-style="italic">daf-16</tspan></text>
<text transform="translate(4.81,1429.40) scale(1.0145,1)" xml:space="preserve" font-family='"Liberation Sans", sans-serif' font-weight="bold" font-size="29" fill="#212121">to <tspan font-style="italic">daf-16; daf-2</tspan></text>
<text transform="translate(104.61,1492.80) scale(1.0098,1)" xml:space="preserve" font-family='"Liberation Sans", sans-serif' font-weight="bold" font-size="29" fill="#212121">to <tspan font-style="italic">age-1</tspan></text>
<text transform="translate(111.10,1550.70) scale(1.0242,1)" xml:space="preserve" font-family='"Liberation Sans", sans-serif' font-weight="bold" font-size="29" fill="#212121">to <tspan font-style="italic">eat-2</tspan></text>
<text transform="translate(220.81,1593.80) scale(1.0814,1)" xml:space="preserve" font-family='"Liberation Sans", sans-serif' font-weight="bold" font-size="18.3" fill="#212121">0</text>
<text transform="translate(303.24,1593.80) scale(1.0304,1)" xml:space="preserve" font-family='"Liberation Sans", sans-serif' font-weight="bold" font-size="18.3" fill="#212121">25</text>
<text transform="translate(388.92,1593.80) scale(1.0614,1)" xml:space="preserve" font-family='"Liberation Sans", sans-serif' font-weight="bold" font-size="18.3" fill="#212121">50</text>
<text transform="translate(475.03,1593.80) scale(1.0614,1)" xml:space="preserve" font-family='"Liberation Sans", sans-serif' font-weight="bold" font-size="18.3" fill="#212121">75</text>
<text transform="translate(552.81,1593.80) scale(1.0824,1)" xml:space="preserve" font-family='"Liberation Sans", sans-serif' font-weight="bold" font-size="18.3" fill="#212121">100</text>
<text transform="translate(227.29,1622.60) scale(1.0209,1)" xml:space="preserve" font-family='"Liberation Sans", sans-serif' font-weight="bold" font-size="28.8" fill="#212121">Percentage of Length (%)</text>
<rect x="589.3" y="1259.0" width="25.7" height="315.70000000000005" fill="none" stroke="#000" stroke-opacity="0.55" stroke-width="0.8"/>
<path d="M615 1310.5h-4M615 1361.2h-4M615 1412.0h-4M615 1462.7h-4M615 1513.5h-4M615 1564.2h-4" stroke="#000" stroke-opacity="0.75" stroke-width="0.8" fill="none"/>
<text transform="translate(620.11,1264.60) scale(1.0274,1)" xml:space="preserve" font-family='"Liberation Sans", sans-serif' font-weight="bold" font-size="19" fill="#212121">30</text>
<text transform="translate(619.91,1367.40) scale(1.0374,1)" xml:space="preserve" font-family='"Liberation Sans", sans-serif' font-weight="bold" font-size="19" fill="#212121">20</text>
<text transform="translate(619.81,1468.60) scale(1.0422,1)" xml:space="preserve" font-family='"Liberation Sans", sans-serif' font-weight="bold" font-size="19" fill="#212121">10</text>
<text transform="translate(625.07,1572.60) scale(1.0970,1)" xml:space="preserve" font-family='"Liberation Sans", sans-serif' font-weight="bold" font-size="19" fill="#212121">0</text>
</svg>
</div></body></html>
